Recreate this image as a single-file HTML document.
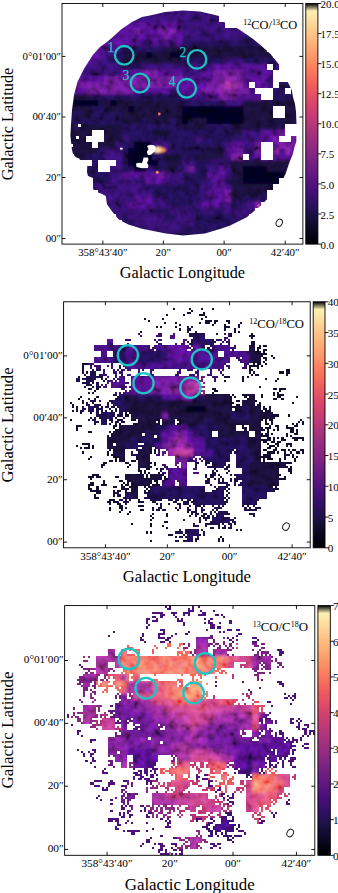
<!DOCTYPE html>
<html><head><meta charset="utf-8"><style>
html,body{margin:0;padding:0;background:#fff;width:338px;height:893px;overflow:hidden}
body{position:relative;font-family:"Liberation Serif",serif;color:#000}
div{position:absolute;box-sizing:border-box}
.frame{border:1px solid #262626}
.cb{border:1px solid #262626}
.th{width:3.5px;height:1px;background:#262626}
.tv{width:1px;height:3.5px;background:#262626}
.yl{font-size:10.9px;line-height:12px;white-space:nowrap;text-align:right}
.xl{font-size:10.9px;line-height:12px;width:80px;text-align:center;white-space:nowrap}
.cl{font-size:10.9px;line-height:12px;white-space:nowrap}
.al{font-size:16.3px;line-height:20px;width:160px;text-align:center;white-space:nowrap}
.rot{transform:rotate(-90deg)}
.ti{font-size:12px;line-height:14px;white-space:nowrap}
.ti sup{font-size:8px;vertical-align:0;position:relative;top:-4px}
</style></head><body>
<svg style="position:absolute;left:0;top:0" width="338" height="893" viewBox="0 0 338 893"><defs><filter id="bs" x="-20%" y="-20%" width="140%" height="140%"><feGaussianBlur stdDeviation="0.8"/></filter><filter id="bl" x="-5%" y="-5%" width="110%" height="110%"><feGaussianBlur stdDeviation="1.8"/></filter><filter id="nz" filterUnits="userSpaceOnUse" x="0" y="0" width="338" height="893"><feTurbulence type="fractalNoise" baseFrequency="0.13" numOctaves="2" seed="7"/><feColorMatrix type="matrix" values="1.6 0 0 0 -0.3  1.6 0 0 0 -0.3  1.6 0 0 0 -0.3  0 0 0 0 1"/></filter><clipPath id="c1"><polygon points="142.0,17.0 150.0,15.4 165.0,12.0 183.0,10.5 200.0,11.5 215.0,15.0 219.0,16.0 220.0,22.0 223.0,21.7 232.5,25.3 241.9,31.2 253.8,39.5 260.9,45.4 270.3,53.7 279.8,65.5 284.7,77.7 288.3,83.0 291.8,90.2 293.0,97.0 295.0,104.0 296.0,112.0 296.5,124.0 296.3,141.8 294.5,147.0 292.7,154.2 289.2,163.0 285.6,173.7 283.4,178.2 272.7,193.6 260.9,205.4 246.7,217.3 230.1,225.5 223.0,228.0 205.0,233.5 183.0,235.5 166.0,233.5 142.0,228.7 128.3,224.4 118.8,219.6 112.9,212.5 107.0,204.2 105.8,196.0 101.1,193.6 94.0,191.2 93.0,188.0 93.0,178.0 88.0,176.0 87.0,172.0 87.3,165.0 92.0,162.6 88.0,161.0 80.0,160.0 79.3,158.5 75.8,157.3 73.0,153.8 72.0,150.0 70.4,136.0 71.0,124.0 72.0,110.0 74.0,95.0 77.4,82.1 84.5,67.9 92.8,54.9 100.0,47.0 107.0,42.0 114.0,36.0 121.0,29.5 132.0,22.0" fill="#fff"/></clipPath></defs><g clip-path="url(#c1)"><g filter="url(#bl)"><path fill="#451077" d="M62 4h48v6h-48zM62 10h54v6h-54zM62 16h60v6h-60zM62 22h120v6h-120zM62 28h72v6h-72zM140 28h18v6h-18zM176 28h6v6h-6zM62 34h102v6h-102zM170 34h12v6h-12zM62 40h78v6h-78zM152 40h6v6h-6zM164 40h6v6h-6zM176 40h6v6h-6zM62 46h54v6h-54zM74 52h30v6h-30zM80 58h18v6h-18zM62 64h6v6h-6zM213 64h54v6h-54zM62 70h12v6h-12zM122 70h18v6h-18zM158 70h24v6h-24zM201 70h12v6h-12zM243 70h30v6h-30zM62 76h42v6h-42zM182 76h31v6h-31zM243 76h24v6h-24zM62 82h6v6h-6zM176 82h31v6h-31zM243 82h24v6h-24zM62 88h24v6h-24zM134 88h36v6h-36zM182 88h19v6h-19zM255 88h12v6h-12zM207 94h12v6h-12zM237 94h30v6h-30zM261 130h18v6h-18zM261 136h12v6h-12zM231 142h12v6h-12zM261 142h18v6h-18zM225 148h12v6h-12zM279 148h6v6h-6zM291 148h12v6h-12zM255 154h48v6h-48zM219 166h6v6h-6zM122 172h36v6h-36zM164 172h6v6h-6zM207 172h18v6h-18zM146 178h18v6h-18zM213 178h12v6h-12zM213 184h12v6h-12zM207 190h18v6h-18zM134 196h18v6h-18zM213 196h12v6h-12zM128 202h24v6h-24zM201 202h18v6h-18z"/><path fill="#2d1161" d="M110 4h169v6h-169zM116 10h157v6h-157zM122 16h145v6h-145zM182 22h79v6h-79zM182 28h73v6h-73zM182 34h61v6h-61zM140 40h12v6h-12zM158 40h6v6h-6zM170 40h6v6h-6zM116 46h6v6h-6zM62 52h12v6h-12zM104 52h12v6h-12zM62 58h18v6h-18zM98 58h12v6h-12zM225 58h18v6h-18zM68 64h54v6h-54zM140 64h73v6h-73zM273 64h24v6h-24zM74 70h48v6h-48zM182 70h19v6h-19zM273 70h12v6h-12zM267 76h12v6h-12zM267 82h12v6h-12zM170 88h12v6h-12zM249 88h6v6h-6zM267 88h6v6h-6zM182 94h25v6h-25zM225 100h18v6h-18zM243 130h18v6h-18zM122 136h6v6h-6zM194 136h7v6h-7zM237 136h24v6h-24zM116 142h6v6h-6zM152 142h18v6h-18zM225 142h6v6h-6zM243 142h12v6h-12zM104 148h18v6h-18zM164 148h6v6h-6zM243 148h12v6h-12zM104 154h18v6h-18zM225 154h6v6h-6zM243 154h12v6h-12zM104 160h18v6h-18zM182 160h12v6h-12zM213 160h12v6h-12zM104 166h18v6h-18zM146 166h6v6h-6zM182 166h6v6h-6zM207 166h12v6h-12zM225 166h6v6h-6zM110 172h12v6h-12zM170 172h12v6h-12zM225 172h6v6h-6zM110 178h36v6h-36zM164 178h18v6h-18zM207 178h6v6h-6zM80 184h66v6h-66zM201 184h12v6h-12zM225 184h6v6h-6zM68 190h84v6h-84zM201 190h6v6h-6zM62 196h72v6h-72zM152 196h12v6h-12zM201 196h12v6h-12zM62 202h66v6h-66zM152 202h18v6h-18zM194 202h7v6h-7zM219 202h12v6h-12zM243 202h12v6h-12zM62 208h96v6h-96zM170 208h24v6h-24zM201 208h12v6h-12zM225 208h30v6h-30zM62 214h60v6h-60zM128 214h36v6h-36zM176 214h18v6h-18zM237 214h24v6h-24zM62 220h60v6h-60zM134 220h60v6h-60zM243 220h24v6h-24zM62 226h54v6h-54zM146 226h36v6h-36zM249 226h24v6h-24zM62 232h48v6h-48zM146 232h6v6h-6zM255 232h24v6h-24zM62 238h42v6h-42zM261 238h24v6h-24z"/><path fill="#1e1149" d="M279 4h24v6h-24zM273 10h24v6h-24zM267 16h24v6h-24zM261 22h24v6h-24zM255 28h24v6h-24zM243 34h30v6h-30zM297 34h6v6h-6zM182 40h85v6h-85zM291 40h12v6h-12zM122 46h42v6h-42zM285 46h18v6h-18zM116 52h6v6h-6zM279 52h24v6h-24zM110 58h12v6h-12zM182 58h43v6h-43zM243 58h60v6h-60zM122 64h18v6h-18zM267 64h6v6h-6zM297 64h6v6h-6zM285 70h18v6h-18zM279 76h24v6h-24zM279 82h24v6h-24zM273 88h30v6h-30zM92 94h90v6h-90zM267 94h24v6h-24zM182 100h43v6h-43zM92 106h12v6h-12zM62 112h18v6h-18zM92 112h30v6h-30zM62 118h60v6h-60zM140 118h6v6h-6zM170 118h6v6h-6zM74 124h6v6h-6zM122 124h60v6h-60zM207 124h24v6h-24zM279 124h6v6h-6zM122 130h30v6h-30zM170 130h61v6h-61zM128 136h66v6h-66zM201 136h36v6h-36zM122 142h12v6h-12zM170 142h55v6h-55zM98 148h6v6h-6zM122 148h6v6h-6zM152 148h12v6h-12zM170 148h37v6h-37zM86 154h18v6h-18zM122 154h6v6h-6zM152 154h12v6h-12zM182 154h12v6h-12zM86 160h18v6h-18zM122 160h6v6h-6zM158 160h6v6h-6zM194 160h19v6h-19zM225 160h6v6h-6zM80 166h24v6h-24zM122 166h12v6h-12zM152 166h12v6h-12zM176 166h6v6h-6zM194 166h13v6h-13zM68 172h42v6h-42zM182 172h25v6h-25zM62 178h48v6h-48zM182 178h25v6h-25zM225 178h6v6h-6zM62 184h18v6h-18zM146 184h55v6h-55zM62 190h6v6h-6zM152 190h49v6h-49zM164 196h37v6h-37zM237 196h42v6h-42zM170 202h24v6h-24zM231 202h12v6h-12zM261 202h30v6h-30zM158 208h12v6h-12zM194 208h7v6h-7zM213 208h12v6h-12zM267 208h30v6h-30zM122 214h6v6h-6zM164 214h12v6h-12zM194 214h43v6h-43zM273 214h30v6h-30zM122 220h12v6h-12zM194 220h49v6h-49zM279 220h24v6h-24zM116 226h30v6h-30zM182 226h67v6h-67zM285 226h18v6h-18zM110 232h36v6h-36zM152 232h103v6h-103zM291 232h12v6h-12zM104 238h157v6h-157zM297 238h6v6h-6z"/><path fill="#120d31" d="M297 10h6v6h-6zM291 16h12v6h-12zM285 22h18v6h-18zM279 28h24v6h-24zM273 34h24v6h-24zM267 40h24v6h-24zM164 46h121v6h-121zM122 52h24v6h-24zM152 52h18v6h-18zM182 52h97v6h-97zM122 58h60v6h-60zM62 94h30v6h-30zM291 94h12v6h-12zM62 100h12v6h-12zM98 100h12v6h-12zM116 100h66v6h-66zM243 100h60v6h-60zM62 106h30v6h-30zM104 106h24v6h-24zM134 106h48v6h-48zM243 106h60v6h-60zM80 112h12v6h-12zM122 112h60v6h-60zM243 112h60v6h-60zM122 118h18v6h-18zM146 118h24v6h-24zM176 118h6v6h-6zM188 118h19v6h-19zM243 118h60v6h-60zM62 124h12v6h-12zM80 124h42v6h-42zM182 124h25v6h-25zM231 124h48v6h-48zM285 124h18v6h-18zM62 130h60v6h-60zM152 130h18v6h-18zM231 130h12v6h-12zM62 136h60v6h-60zM62 142h54v6h-54zM62 148h36v6h-36zM207 148h18v6h-18zM62 154h24v6h-24zM164 154h18v6h-18zM194 154h31v6h-31zM62 160h24v6h-24zM164 160h18v6h-18zM231 160h72v6h-72zM62 166h18v6h-18zM164 166h12v6h-12zM231 166h12v6h-12zM267 166h36v6h-36zM62 172h6v6h-6zM231 172h12v6h-12zM285 172h18v6h-18zM231 178h12v6h-12zM285 178h18v6h-18zM231 184h42v6h-42zM285 184h18v6h-18zM231 190h48v6h-48zM291 190h12v6h-12zM231 196h6v6h-6zM279 196h6v6h-6zM291 196h12v6h-12zM297 202h6v6h-6zM297 208h6v6h-6z"/><path fill="#5c167f" d="M134 28h6v6h-6zM158 28h18v6h-18zM164 34h6v6h-6zM140 70h18v6h-18zM213 70h30v6h-30zM104 76h78v6h-78zM213 76h12v6h-12zM237 76h6v6h-6zM68 82h108v6h-108zM207 82h12v6h-12zM86 88h48v6h-48zM201 88h18v6h-18zM237 88h12v6h-12zM219 94h18v6h-18zM279 130h24v6h-24zM273 136h30v6h-30zM255 142h6v6h-6zM285 142h18v6h-18zM237 148h6v6h-6zM255 148h12v6h-12zM231 154h6v6h-6zM188 166h6v6h-6zM158 172h6v6h-6zM225 190h6v6h-6zM225 196h6v6h-6zM255 202h6v6h-6zM255 208h12v6h-12zM261 214h12v6h-12zM267 220h12v6h-12zM273 226h12v6h-12zM279 232h12v6h-12zM285 238h12v6h-12z"/><path fill="#06051a" d="M146 52h6v6h-6zM170 52h12v6h-12zM74 100h24v6h-24zM110 100h6v6h-6zM128 106h6v6h-6zM182 106h61v6h-61zM182 112h61v6h-61zM182 118h6v6h-6zM207 118h36v6h-36zM134 142h18v6h-18zM128 148h24v6h-24zM128 154h24v6h-24zM128 160h30v6h-30zM134 166h12v6h-12zM243 166h24v6h-24zM243 172h42v6h-42zM243 178h42v6h-42zM273 184h12v6h-12zM279 190h12v6h-12zM285 196h6v6h-6zM291 202h6v6h-6z"/><path fill="#6b1d81" d="M225 76h12v6h-12zM219 82h6v6h-6zM237 82h6v6h-6zM219 88h18v6h-18zM279 142h6v6h-6zM267 148h12v6h-12zM285 148h6v6h-6zM237 154h6v6h-6z"/><path fill="#8c2981" d="M225 82h6v6h-6z"/><path fill="#7c2382" d="M231 82h6v6h-6z"/></g><rect x="62.0" y="3.5" width="240.9" height="240.6" filter="url(#nz)" style="mix-blend-mode:overlay" opacity="0.5"/><g filter="url(#bs)"><polygon points="155.0,146.8 159.0,146.3 163.0,147.2 166.5,149.5 165.0,152.0 161.0,153.2 155.0,153.4" fill="#f9925f"/><polygon points="154.5,147.0 158.0,146.6 160.5,147.5 161.0,150.0 159.5,152.8 154.5,153.2" fill="#fee2a6"/></g><circle cx="157.3" cy="172.3" r="1.5" fill="#f78a5e"/><circle cx="159.3" cy="114" r="1.4" fill="#f3795c"/><circle cx="258.5" cy="205.4" r="1.5" fill="#d44870"/></g><path fill="#fff" d="M62 4h241v6h-241zM62 10h84v6h-84zM219 10h84v6h-84zM62 16h66v6h-66zM219 16h84v6h-84zM62 22h60v6h-60zM225 22h78v6h-78zM62 28h48v6h-48zM249 28h54v6h-54zM62 34h42v6h-42zM255 34h48v6h-48zM62 40h36v6h-36zM261 40h42v6h-42zM62 46h30v6h-30zM267 46h36v6h-36zM62 52h24v6h-24zM273 52h30v6h-30zM62 58h24v6h-24zM279 58h24v6h-24zM62 64h18v6h-18zM267 64h6v6h-6zM279 64h24v6h-24zM62 70h18v6h-18zM273 70h30v6h-30zM62 76h12v6h-12zM273 76h30v6h-30zM62 82h12v6h-12zM249 82h6v6h-6zM273 82h6v6h-6zM291 82h12v6h-12zM62 88h6v6h-6zM255 88h18v6h-18zM285 88h6v6h-6zM297 88h6v6h-6zM62 94h6v6h-6zM261 94h12v6h-12zM297 94h6v6h-6zM62 100h6v6h-6zM297 100h6v6h-6zM62 106h6v6h-6zM273 106h12v6h-12zM297 106h6v6h-6zM62 112h6v6h-6zM273 112h12v6h-12zM297 112h6v6h-6zM62 118h6v6h-6zM297 118h6v6h-6zM62 124h6v6h-6zM285 124h18v6h-18zM62 130h6v6h-6zM92 130h12v6h-12zM285 130h18v6h-18zM62 136h6v6h-6zM86 136h18v6h-18zM279 136h12v6h-12zM297 136h6v6h-6zM62 142h6v6h-6zM92 142h6v6h-6zM261 142h12v6h-12zM297 142h6v6h-6zM62 148h6v6h-6zM261 148h12v6h-12zM297 148h6v6h-6zM62 154h12v6h-12zM243 154h6v6h-6zM261 154h12v6h-12zM297 154h6v6h-6zM62 160h30v6h-30zM98 160h18v6h-18zM297 160h6v6h-6zM62 166h24v6h-24zM98 166h12v6h-12zM291 166h12v6h-12zM62 172h24v6h-24zM291 172h12v6h-12zM62 178h30v6h-30zM279 178h24v6h-24zM62 184h30v6h-30zM273 184h30v6h-30zM62 190h36v6h-36zM267 190h36v6h-36zM62 196h42v6h-42zM267 196h36v6h-36zM62 202h42v6h-42zM261 202h42v6h-42zM62 208h48v6h-48zM255 208h48v6h-48zM62 214h54v6h-54zM249 214h54v6h-54zM62 220h60v6h-60zM243 220h60v6h-60zM62 226h72v6h-72zM231 226h72v6h-72zM62 232h90v6h-90zM219 232h84v6h-84zM62 238h241v6h-241zM78 124h3v3h-3zM76 136h3v3h-3zM70 144h3v3h-3z"/><polygon points="147.0,146.0 150.0,144.8 154.0,145.2 155.8,147.0 155.5,151.0 153.0,153.0 151.0,154.8 148.0,155.0 146.8,152.0 148.5,149.0" fill="#fff"/><polygon points="143.5,157.5 148.0,157.5 148.4,160.0 147.0,163.0 148.4,165.0 148.0,168.0 142.0,168.3 136.5,167.0 136.0,163.5 139.0,162.8 142.0,163.0 143.0,160.0" fill="#fff"/><rect x="120.0" y="147.8" width="2.7" height="1.7" fill="#fff"/><clipPath id="cp2"><rect x="63.6" y="301.8" width="246.6" height="246.0"/></clipPath><g clip-path="url(#cp2)"><g filter="url(#bl)"><path fill="#3b0f70" d="M64 302h104v6h-104zM236 302h6v6h-6zM64 308h104v6h-104zM230 308h12v6h-12zM64 314h104v6h-104zM230 314h12v6h-12zM64 320h104v6h-104zM224 320h18v6h-18zM64 326h104v7h-104zM224 326h18v7h-18zM64 333h55v6h-55zM125 333h43v6h-43zM218 333h24v6h-24zM64 339h55v6h-55zM125 339h43v6h-43zM218 339h24v6h-24zM64 345h55v6h-55zM125 345h43v6h-43zM212 345h30v6h-30zM64 351h49v6h-49zM125 351h13v6h-13zM199 351h50v6h-50zM64 357h49v6h-49zM125 357h13v6h-13zM162 357h13v6h-13zM181 357h6v6h-6zM193 357h56v6h-56zM82 363h31v6h-31zM125 363h124v6h-124zM101 369h148v7h-148zM113 376h18v6h-18zM205 376h44v6h-44zM119 382h12v6h-12zM119 388h6v6h-6zM162 394h19v6h-19zM168 425h13v6h-13zM187 431h12v6h-12zM199 437h6v6h-6zM156 443h6v6h-6zM199 443h6v6h-6zM156 449h6v7h-6zM199 449h13v7h-13zM156 456h6v6h-6zM199 456h6v6h-6zM162 462h13v6h-13zM162 468h19v6h-19zM168 474h7v6h-7zM181 474h18v6h-18zM162 480h6v6h-6zM181 480h12v6h-12z"/><path fill="#1e1149" d="M168 302h68v6h-68zM168 308h62v6h-62zM168 314h62v6h-62zM175 320h49v6h-49zM181 326h43v7h-43zM119 333h6v6h-6zM181 333h37v6h-37zM119 339h6v6h-6zM187 339h31v6h-31zM119 345h6v6h-6zM205 345h7v6h-7zM113 351h12v6h-12zM138 351h30v6h-30zM113 357h12v6h-12zM138 357h24v6h-24zM64 363h18v6h-18zM113 363h12v6h-12zM64 369h37v7h-37zM64 376h43v6h-43zM64 382h37v6h-37zM64 388h37v6h-37zM64 394h61v6h-61zM138 394h24v6h-24zM193 394h12v6h-12zM64 400h61v6h-61zM64 406h61v6h-61zM242 406h7v6h-7zM64 412h61v7h-61zM230 412h19v7h-19zM64 419h55v6h-55zM205 419h7v6h-7zM64 425h49v6h-49zM156 425h12v6h-12zM187 425h31v6h-31zM64 431h37v6h-37zM144 431h6v6h-6zM156 431h6v6h-6zM199 431h19v6h-19zM64 437h18v6h-18zM131 437h31v6h-31zM205 437h44v6h-44zM125 443h19v6h-19zM150 443h6v6h-6zM205 443h44v6h-44zM125 449h13v7h-13zM212 449h37v7h-37zM187 456h6v6h-6zM205 456h50v6h-50zM187 462h62v6h-62zM199 468h50v6h-50zM199 474h50v6h-50zM193 480h56v6h-56zM70 486h55v6h-55zM150 486h123v6h-123zM64 492h67v7h-67zM144 492h135v7h-135zM64 499h67v6h-67zM144 499h142v6h-142zM64 505h67v6h-67zM144 505h148v6h-148zM64 511h67v6h-67zM144 511h154v6h-154zM64 517h67v6h-67zM144 517h160v6h-160zM64 523h67v6h-67zM144 523h166v6h-166zM64 529h67v7h-67zM144 529h166v7h-166zM64 536h67v6h-67zM144 536h166v6h-166zM64 542h67v6h-67zM144 542h166v6h-166z"/><path fill="#120d31" d="M242 302h68v6h-68zM242 308h68v6h-68zM242 314h68v6h-68zM242 320h68v6h-68zM242 326h68v7h-68zM242 333h68v6h-68zM242 339h68v6h-68zM242 345h68v6h-68zM249 351h61v6h-61zM249 357h61v6h-61zM249 363h61v6h-61zM249 369h61v7h-61zM249 376h61v6h-61zM212 382h98v6h-98zM205 388h105v6h-105zM125 394h13v6h-13zM205 394h105v6h-105zM125 400h185v6h-185zM125 406h62v6h-62zM205 406h37v6h-37zM249 406h61v6h-61zM125 412h37v7h-37zM168 412h62v7h-62zM249 412h61v7h-61zM119 419h86v6h-86zM212 419h98v6h-98zM113 425h43v6h-43zM218 425h92v6h-92zM101 431h43v6h-43zM150 431h6v6h-6zM218 431h92v6h-92zM82 437h49v6h-49zM249 437h61v6h-61zM64 443h61v6h-61zM144 443h6v6h-6zM249 443h61v6h-61zM64 449h61v7h-61zM138 449h18v7h-18zM249 449h61v7h-61zM64 456h92v6h-92zM255 456h55v6h-55zM64 462h98v6h-98zM249 462h61v6h-61zM64 468h98v6h-98zM249 468h61v6h-61zM64 474h104v6h-104zM249 474h61v6h-61zM64 480h98v6h-98zM249 480h61v6h-61zM64 486h6v6h-6zM125 486h25v6h-25zM273 486h37v6h-37zM131 492h13v7h-13zM279 492h31v7h-31zM131 499h13v6h-13zM286 499h24v6h-24zM131 505h13v6h-13zM292 505h18v6h-18zM131 511h13v6h-13zM298 511h12v6h-12zM131 517h13v6h-13zM304 517h6v6h-6zM131 523h13v6h-13zM131 529h13v7h-13zM131 536h13v6h-13zM131 542h13v6h-13z"/><path fill="#4c117a" d="M168 320h7v6h-7zM168 326h13v7h-13zM168 333h13v6h-13zM168 339h19v6h-19zM168 345h37v6h-37zM168 351h31v6h-31zM175 357h6v6h-6zM187 357h6v6h-6zM107 376h6v6h-6zM131 376h25v6h-25zM101 382h18v6h-18zM131 382h19v6h-19zM101 388h18v6h-18zM125 388h25v6h-25zM181 425h6v6h-6zM162 431h13v6h-13zM162 437h6v6h-6zM187 437h12v6h-12zM193 443h6v6h-6zM193 449h6v7h-6zM193 456h6v6h-6zM181 468h18v6h-18zM175 474h6v6h-6zM168 480h13v6h-13z"/><path fill="#5c167f" d="M156 376h31v6h-31zM150 382h31v6h-31zM150 388h18v6h-18zM181 394h12v6h-12zM162 412h6v7h-6zM181 431h6v6h-6zM168 437h7v6h-7zM162 443h6v6h-6zM187 443h6v6h-6zM162 449h6v7h-6zM175 456h12v6h-12zM175 462h12v6h-12z"/><path fill="#6b1d81" d="M187 376h18v6h-18zM181 382h6v6h-6zM168 388h19v6h-19zM175 431h6v6h-6zM181 437h6v6h-6zM168 443h13v6h-13z"/><path fill="#8c2981" d="M187 382h25v6h-25zM193 388h12v6h-12z"/><path fill="#9c2e7f" d="M187 388h6v6h-6zM175 449h6v7h-6zM187 449h6v7h-6z"/><path fill="#06051a" d="M187 406h18v6h-18z"/><path fill="#7c2382" d="M175 437h6v6h-6zM181 443h6v6h-6zM168 449h7v7h-7zM162 456h13v6h-13z"/><path fill="#ad347c" d="M181 449h6v7h-6z"/></g><rect x="63.6" y="301.8" width="246.6" height="246.0" filter="url(#nz)" style="mix-blend-mode:overlay" opacity="0.5"/><path fill="#fff" d="M64 302h246v6h-246zM64 308h246v6h-246zM64 314h246v6h-246zM64 320h246v6h-246zM64 326h246v7h-246zM64 333h129v6h-129zM205 333h105v6h-105zM64 339h43v6h-43zM113 339h80v6h-80zM212 339h98v6h-98zM64 345h30v6h-30zM150 345h6v6h-6zM187 345h6v6h-6zM205 345h7v6h-7zM230 345h19v6h-19zM255 345h55v6h-55zM64 351h37v6h-37zM107 351h6v6h-6zM218 351h6v6h-6zM261 351h49v6h-49zM64 357h30v6h-30zM230 357h12v6h-12zM261 357h49v6h-49zM64 363h61v6h-61zM224 363h86v6h-86zM64 369h246v7h-246zM64 376h24v6h-24zM94 376h25v6h-25zM125 376h6v6h-6zM199 376h111v6h-111zM64 382h49v6h-49zM125 382h6v6h-6zM199 382h111v6h-111zM64 388h67v6h-67zM199 388h111v6h-111zM64 394h55v6h-55zM230 394h19v6h-19zM255 394h55v6h-55zM64 400h49v6h-49zM230 400h12v6h-12zM255 400h55v6h-55zM64 406h24v6h-24zM94 406h25v6h-25zM261 406h49v6h-49zM64 412h37v7h-37zM113 412h18v7h-18zM273 412h37v7h-37zM64 419h37v6h-37zM107 419h31v6h-31zM156 419h6v6h-6zM175 419h6v6h-6zM261 419h49v6h-49zM64 425h55v6h-55zM236 425h13v6h-13zM261 425h49v6h-49zM64 431h49v6h-49zM212 431h6v6h-6zM249 431h6v6h-6zM261 431h49v6h-49zM64 437h43v6h-43zM261 437h49v6h-49zM64 443h43v6h-43zM138 443h6v6h-6zM261 443h49v6h-49zM64 449h49v7h-49zM125 449h13v7h-13zM150 449h18v7h-18zM230 449h6v7h-6zM261 449h49v7h-49zM64 456h55v6h-55zM125 456h13v6h-13zM150 456h25v6h-25zM193 456h12v6h-12zM230 456h6v6h-6zM261 456h49v6h-49zM64 462h74v6h-74zM150 462h31v6h-31zM187 462h25v6h-25zM224 462h12v6h-12zM286 462h24v6h-24zM64 468h104v6h-104zM187 468h55v6h-55zM279 468h31v6h-31zM64 474h61v6h-61zM144 474h6v6h-6zM162 474h6v6h-6zM187 474h49v6h-49zM279 474h31v6h-31zM64 480h67v6h-67zM150 480h12v6h-12zM175 480h6v6h-6zM187 480h55v6h-55zM279 480h31v6h-31zM64 486h67v6h-67zM138 486h12v6h-12zM205 486h13v6h-13zM224 486h18v6h-18zM273 486h37v6h-37zM64 492h61v7h-61zM138 492h6v7h-6zM224 492h18v7h-18zM267 492h43v7h-43zM64 499h129v6h-129zM224 499h18v6h-18zM255 499h55v6h-55zM64 505h246v6h-246zM64 511h154v6h-154zM224 511h86v6h-86zM64 517h148v6h-148zM230 517h80v6h-80zM64 523h246v6h-246zM64 529h123v7h-123zM199 529h111v7h-111zM64 536h123v6h-123zM193 536h117v6h-117zM64 542h246v6h-246zM232 408h3v3h-3zM142 433h3v3h-3zM154 435h3v3h-3zM113 443h3v3h-3zM152 447h3v3h-3zM144 494h3v3h-3z"/><path fill="#120d31" d="M173 308h2v2h-2zM191 310h2v2h-2zM189 312h2v2h-2zM187 312h2v2h-2zM189 308h2v2h-2zM203 312h2v2h-2zM201 308h2v2h-2zM212 308h2v2h-2zM144 318h2v2h-2zM166 314h2v2h-2zM162 318h2v2h-2zM183 314h2v2h-2zM201 318h2v2h-2zM203 314h2v2h-2zM201 314h2v2h-2zM199 314h2v2h-2zM205 316h2v2h-2zM148 320h2v2h-2zM164 322h2v2h-2zM175 322h2v2h-2zM179 324h2v2h-2zM207 322h3v2h-3zM205 320h2v2h-2zM210 320h2v2h-2zM205 322h2v2h-2zM207 320h3v2h-3zM214 322h2v2h-2zM214 320h2v2h-2zM216 320h2v2h-2zM212 324h2v2h-2zM228 322h2v2h-2zM226 320h2v2h-2zM228 320h2v2h-2zM224 324h2v2h-2zM238 324h2v2h-2zM240 322h2v2h-2zM140 331h2v2h-2zM160 326h2v2h-2zM156 326h2v2h-2zM175 326h2v2h-2zM179 328h2v3h-2zM228 326h2v2h-2zM224 328h2v3h-2zM224 326h2v2h-2zM226 326h2v2h-2zM234 328h2v3h-2zM234 331h2v2h-2zM238 331h2v2h-2zM238 326h2v2h-2zM230 333h2v2h-2zM230 335h2v2h-2zM251 335h2v2h-2zM251 337h2v2h-2zM253 335h2v2h-2zM249 335h2v2h-2zM251 333h2v2h-2zM251 341h2v2h-2zM253 341h2v2h-2zM253 343h2v2h-2zM251 343h2v2h-2zM257 349h2v2h-2zM259 347h2v2h-2zM259 345h2v2h-2zM257 347h2v2h-2zM265 349h2v2h-2zM265 345h2v2h-2zM263 345h2v2h-2zM263 349h2v2h-2zM263 353h2v2h-2zM263 351h2v2h-2zM265 353h2v2h-2zM261 355h2v2h-2zM261 353h2v2h-2zM271 355h2v2h-2zM263 361h2v2h-2zM265 357h2v2h-2zM263 357h2v2h-2zM265 359h2v2h-2zM273 357h2v2h-2zM82 365h2v2h-2zM86 363h2v2h-2zM82 363h2v2h-2zM84 363h2v2h-2zM82 367h2v2h-2zM253 365h2v2h-2zM253 363h2v2h-2zM249 365h2v2h-2zM249 367h2v2h-2zM251 365h2v2h-2zM257 367h2v2h-2zM259 363h2v2h-2zM257 363h2v2h-2zM257 365h2v2h-2zM255 365h2v2h-2zM261 365h2v2h-2zM265 363h2v2h-2zM251 369h2v2h-2zM249 371h2v3h-2zM249 369h2v2h-2zM251 374h2v2h-2zM253 371h2v3h-2zM255 374h2v2h-2zM257 374h2v2h-2zM279 371h2v3h-2zM281 371h3v3h-3zM288 369h2v2h-2zM288 371h2v3h-2zM286 374h2v2h-2zM286 369h2v2h-2zM286 371h2v3h-2zM224 380h2v2h-2zM226 376h2v2h-2zM228 376h2v2h-2zM224 376h2v2h-2zM242 380h2v2h-2zM247 376h2v2h-2zM242 376h2v2h-2zM242 378h2v2h-2zM265 378h2v2h-2zM275 380h2v2h-2zM277 378h2v2h-2zM259 386h2v2h-2zM94 390h2v2h-2zM96 388h3v2h-3zM216 390h2v2h-2zM212 388h2v2h-2zM214 390h2v2h-2zM212 392h2v2h-2zM214 388h2v2h-2zM273 392h2v2h-2zM275 388h2v2h-2zM273 388h2v2h-2zM277 392h2v2h-2zM284 388h2v2h-2zM279 390h2v2h-2zM281 388h3v2h-3zM279 388h2v2h-2zM78 398h2v2h-2zM80 396h2v2h-2zM96 396h3v2h-3zM94 398h2v2h-2zM232 394h2v2h-2zM234 396h2v2h-2zM230 398h2v2h-2zM230 396h2v2h-2zM247 394h2v2h-2zM244 396h3v2h-3zM242 394h2v2h-2zM247 398h2v2h-2zM244 394h3v2h-3zM261 396h2v2h-2zM261 394h2v2h-2zM273 394h2v2h-2zM277 396h2v2h-2zM273 398h2v2h-2zM277 394h2v2h-2zM275 398h2v2h-2zM279 394h2v2h-2zM281 398h3v2h-3zM279 396h2v2h-2zM281 394h3v2h-3zM296 396h2v2h-2zM72 404h2v2h-2zM70 402h2v2h-2zM230 404h2v2h-2zM232 402h2v2h-2zM230 400h2v2h-2zM230 402h2v2h-2zM238 404h2v2h-2zM236 404h2v2h-2zM238 400h2v2h-2zM236 400h2v2h-2zM259 404h2v2h-2zM259 402h2v2h-2zM255 400h2v2h-2zM257 404h2v2h-2zM292 402h2v2h-2zM72 406h2v2h-2zM72 410h2v2h-2zM261 410h2v2h-2zM265 410h2v2h-2zM263 408h2v2h-2zM265 408h2v2h-2zM263 406h2v2h-2zM269 408h2v2h-2zM269 410h2v2h-2zM267 410h2v2h-2zM269 406h2v2h-2zM80 412h2v2h-2zM125 414h2v3h-2zM127 414h2v3h-2zM129 412h2v2h-2zM125 412h2v2h-2zM273 417h2v2h-2zM277 414h2v3h-2zM273 414h2v3h-2zM275 414h2v3h-2zM288 414h2v3h-2zM70 419h2v2h-2zM119 419h2v2h-2zM121 419h2v2h-2zM121 421h2v2h-2zM123 421h2v2h-2zM119 423h2v2h-2zM131 419h2v2h-2zM133 419h3v2h-3zM136 423h2v2h-2zM133 423h3v2h-3zM156 423h2v2h-2zM158 421h2v2h-2zM158 423h2v2h-2zM156 419h2v2h-2zM158 419h2v2h-2zM179 419h2v2h-2zM179 421h2v2h-2zM177 419h2v2h-2zM179 423h2v2h-2zM177 423h2v2h-2zM265 419h2v2h-2zM265 423h2v2h-2zM265 421h2v2h-2zM261 419h2v2h-2zM271 423h2v2h-2zM271 419h2v2h-2zM271 421h2v2h-2zM267 423h2v2h-2zM269 419h2v2h-2zM292 423h2v2h-2zM296 423h2v2h-2zM302 421h2v2h-2zM302 423h2v2h-2zM298 421h2v2h-2zM300 419h2v2h-2zM76 429h2v2h-2zM80 425h2v2h-2zM76 427h2v2h-2zM76 425h2v2h-2zM78 425h2v2h-2zM115 429h2v2h-2zM113 425h2v2h-2zM117 429h2v2h-2zM115 425h2v2h-2zM113 427h2v2h-2zM242 427h2v2h-2zM242 425h2v2h-2zM244 429h3v2h-3zM244 427h3v2h-3zM263 429h2v2h-2zM265 427h2v2h-2zM261 427h2v2h-2zM261 429h2v2h-2zM267 427h2v2h-2zM269 427h2v2h-2zM267 429h2v2h-2zM269 425h2v2h-2zM277 429h2v2h-2zM277 427h2v2h-2zM273 429h2v2h-2zM275 425h2v2h-2zM277 425h2v2h-2zM286 427h2v2h-2zM286 425h2v2h-2zM288 427h2v2h-2zM290 429h2v2h-2zM290 427h2v2h-2zM296 425h2v2h-2zM296 429h2v2h-2zM292 429h2v2h-2zM294 425h2v2h-2zM292 427h2v2h-2zM88 431h2v2h-2zM90 431h2v2h-2zM107 435h2v2h-2zM109 431h2v2h-2zM111 435h2v2h-2zM111 433h2v2h-2zM261 433h2v2h-2zM265 433h2v2h-2zM265 435h2v2h-2zM263 435h2v2h-2zM261 435h2v2h-2zM267 433h2v2h-2zM267 435h2v2h-2zM271 433h2v2h-2zM267 431h2v2h-2zM290 435h2v2h-2zM290 431h2v2h-2zM286 435h2v2h-2zM286 433h2v2h-2zM296 433h2v2h-2zM292 431h2v2h-2zM294 433h2v2h-2zM296 431h2v2h-2zM265 441h2v2h-2zM263 441h2v2h-2zM263 439h2v2h-2zM265 439h2v2h-2zM261 439h2v2h-2zM271 441h2v2h-2zM267 437h2v2h-2zM269 439h2v2h-2zM269 437h2v2h-2zM267 439h2v2h-2zM273 437h2v2h-2zM273 439h2v2h-2zM277 437h2v2h-2zM273 441h2v2h-2zM277 441h2v2h-2zM281 437h3v2h-3zM284 439h2v2h-2zM281 439h3v2h-3zM279 441h2v2h-2zM294 439h2v2h-2zM292 437h2v2h-2zM296 437h2v2h-2zM296 439h2v2h-2zM294 437h2v2h-2zM298 437h2v2h-2zM300 437h2v2h-2zM302 439h2v2h-2zM302 437h2v2h-2zM80 447h2v2h-2zM76 445h2v2h-2zM86 447h2v2h-2zM84 443h2v2h-2zM82 443h2v2h-2zM84 447h2v2h-2zM86 443h2v2h-2zM88 447h2v2h-2zM88 443h2v2h-2zM92 445h2v2h-2zM88 445h2v2h-2zM92 447h2v2h-2zM267 447h2v2h-2zM271 445h2v2h-2zM267 443h2v2h-2zM269 447h2v2h-2zM269 445h2v2h-2zM273 445h2v2h-2zM275 443h2v2h-2zM275 447h2v2h-2zM277 443h2v2h-2zM277 445h2v2h-2zM288 443h2v2h-2zM290 443h2v2h-2zM286 443h2v2h-2zM290 445h2v2h-2zM286 445h2v2h-2zM82 451h2v3h-2zM111 454h2v2h-2zM107 454h2v2h-2zM107 451h2v3h-2zM109 449h2v2h-2zM154 451h2v3h-2zM154 449h2v2h-2zM150 451h2v3h-2zM150 449h2v2h-2zM265 454h2v2h-2zM263 449h2v2h-2zM265 449h2v2h-2zM263 454h2v2h-2zM267 454h2v2h-2zM267 451h2v3h-2zM271 451h2v3h-2zM269 451h2v3h-2zM269 454h2v2h-2zM273 449h2v2h-2zM273 451h2v3h-2zM277 451h2v3h-2zM275 449h2v2h-2zM281 449h3v2h-3zM284 451h2v3h-2zM284 454h2v2h-2zM284 449h2v2h-2zM288 454h2v2h-2zM290 451h2v3h-2zM286 454h2v2h-2zM288 449h2v2h-2zM296 451h2v3h-2zM294 449h2v2h-2zM292 454h2v2h-2zM292 449h2v2h-2zM298 451h2v3h-2zM302 451h2v3h-2zM302 449h2v2h-2zM300 449h2v2h-2zM90 456h2v2h-2zM88 458h2v2h-2zM111 460h2v2h-2zM109 460h2v2h-2zM113 456h2v2h-2zM115 456h2v2h-2zM115 458h2v2h-2zM117 456h2v2h-2zM115 460h2v2h-2zM133 460h3v2h-3zM131 460h2v2h-2zM136 456h2v2h-2zM136 458h2v2h-2zM263 460h2v2h-2zM263 456h2v2h-2zM263 458h2v2h-2zM261 456h2v2h-2zM265 456h2v2h-2zM271 458h2v2h-2zM269 456h2v2h-2zM269 458h2v2h-2zM267 458h2v2h-2zM267 456h2v2h-2zM279 460h2v2h-2zM279 458h2v2h-2zM284 456h2v2h-2zM284 458h2v2h-2zM296 456h2v2h-2zM294 458h2v2h-2zM292 456h2v2h-2zM294 460h2v2h-2zM101 466h2v2h-2zM105 462h2v2h-2zM103 464h2v2h-2zM101 464h2v2h-2zM103 462h2v2h-2zM127 466h2v2h-2zM129 464h2v2h-2zM127 462h2v2h-2zM125 462h2v2h-2zM154 462h2v2h-2zM154 464h2v2h-2zM150 466h2v2h-2zM150 462h2v2h-2zM286 466h2v2h-2zM286 462h2v2h-2zM290 466h2v2h-2zM288 462h2v2h-2zM290 462h2v2h-2zM140 470h2v2h-2zM138 470h2v2h-2zM140 472h2v2h-2zM138 468h2v2h-2zM144 470h2v2h-2zM144 472h2v2h-2zM148 472h2v2h-2zM146 468h2v2h-2zM148 468h2v2h-2zM158 472h2v2h-2zM160 470h2v2h-2zM160 468h2v2h-2zM156 468h2v2h-2zM288 468h2v2h-2zM288 470h2v2h-2zM290 472h2v2h-2zM290 470h2v2h-2zM290 468h2v2h-2zM88 476h2v2h-2zM92 474h2v2h-2zM90 478h2v2h-2zM90 476h2v2h-2zM92 476h2v2h-2zM96 476h3v2h-3zM96 474h3v2h-3zM94 474h2v2h-2zM99 476h2v2h-2zM117 476h2v2h-2zM115 476h2v2h-2zM146 478h2v2h-2zM148 478h2v2h-2zM144 478h2v2h-2zM146 474h2v2h-2zM146 476h2v2h-2zM164 476h2v2h-2zM162 474h2v2h-2zM166 478h2v2h-2zM164 478h2v2h-2zM210 474h2v2h-2zM205 476h2v2h-2zM207 478h3v2h-3zM210 476h2v2h-2zM205 474h2v2h-2zM281 478h3v2h-3zM284 478h2v2h-2zM279 474h2v2h-2zM284 476h2v2h-2zM279 478h2v2h-2zM92 484h2v2h-2zM90 482h2v2h-2zM92 482h2v2h-2zM90 484h2v2h-2zM88 484h2v2h-2zM101 484h2v2h-2zM103 482h2v2h-2zM105 484h2v2h-2zM103 480h2v2h-2zM103 484h2v2h-2zM121 484h2v2h-2zM119 480h2v2h-2zM123 482h2v2h-2zM121 480h2v2h-2zM127 480h2v2h-2zM127 482h2v2h-2zM125 484h2v2h-2zM127 484h2v2h-2zM129 480h2v2h-2zM154 480h2v2h-2zM152 484h2v2h-2zM154 484h2v2h-2zM150 480h2v2h-2zM150 482h2v2h-2zM156 482h2v2h-2zM158 484h2v2h-2zM156 480h2v2h-2zM156 484h2v2h-2zM88 486h2v2h-2zM92 490h2v2h-2zM90 488h2v2h-2zM88 488h2v2h-2zM90 490h2v2h-2zM99 490h2v2h-2zM96 490h3v2h-3zM96 488h3v2h-3zM94 490h2v2h-2zM96 486h3v2h-3zM115 486h2v2h-2zM117 490h2v2h-2zM113 486h2v2h-2zM113 490h2v2h-2zM125 490h2v2h-2zM127 488h2v2h-2zM129 486h2v2h-2zM125 488h2v2h-2zM146 488h2v2h-2zM144 486h2v2h-2zM144 490h2v2h-2zM148 486h2v2h-2zM148 490h2v2h-2zM275 486h2v2h-2zM273 490h2v2h-2zM273 488h2v2h-2zM275 488h2v2h-2zM277 488h2v2h-2zM99 492h2v2h-2zM94 494h2v3h-2zM96 492h3v2h-3zM96 497h3v2h-3zM94 497h2v2h-2zM109 501h2v2h-2zM109 499h2v2h-2zM109 503h2v2h-2zM111 499h2v2h-2zM107 501h2v2h-2zM117 503h2v2h-2zM115 501h2v2h-2zM113 501h2v2h-2zM117 501h2v2h-2zM113 499h2v2h-2zM142 501h2v2h-2zM140 501h2v2h-2zM138 499h2v2h-2zM138 501h2v2h-2zM109 507h2v2h-2zM109 509h2v2h-2zM119 505h2v2h-2zM119 507h2v2h-2zM121 507h2v2h-2zM121 505h2v2h-2zM121 509h2v2h-2zM142 509h2v2h-2zM140 505h2v2h-2zM140 509h2v2h-2zM142 505h2v2h-2zM138 505h2v2h-2zM119 511h2v2h-2zM129 511h2v2h-2zM127 513h2v2h-2zM152 513h2v2h-2zM150 515h2v2h-2zM166 513h2v2h-2zM166 515h2v2h-2zM191 511h2v2h-2zM189 515h2v2h-2zM191 513h2v2h-2zM187 511h2v2h-2zM150 519h2v2h-2zM152 517h2v2h-2zM166 521h2v2h-2zM164 521h2v2h-2zM183 519h2v2h-2zM131 523h2v2h-2zM150 525h2v2h-2zM150 523h2v2h-2zM166 527h2v2h-2zM162 525h2v2h-2zM146 531h2v3h-2zM150 531h2v3h-2zM168 534h2v2h-2zM170 534h3v2h-3zM240 529h2v2h-2zM236 529h2v2h-2zM150 540h2v2h-2zM222 538h2v2h-2zM218 540h2v2h-2zM220 536h2v2h-2zM218 538h2v2h-2zM222 540h2v2h-2z"/><path fill="#1e1149" d="M199 322h2v2h-2zM187 326h2v2h-2zM187 331h2v2h-2zM191 326h2v2h-2zM187 328h2v3h-2zM189 328h2v3h-2zM195 331h2v2h-2zM189 335h2v2h-2zM191 335h2v2h-2zM191 333h2v2h-2zM189 333h2v2h-2zM216 333h2v2h-2zM189 343h2v2h-2zM191 341h2v2h-2zM187 341h2v2h-2zM191 339h2v2h-2zM191 343h2v2h-2zM212 343h2v2h-2zM216 339h2v2h-2zM212 339h2v2h-2zM212 341h2v2h-2zM214 341h2v2h-2zM207 347h3v2h-3zM207 349h3v2h-3zM210 345h2v2h-2zM210 349h2v2h-2zM205 349h2v2h-2zM123 365h2v2h-2zM119 367h2v2h-2zM123 363h2v2h-2zM119 365h2v2h-2zM86 371h2v3h-2zM82 369h2v2h-2zM82 371h2v3h-2zM84 374h2v2h-2zM92 374h2v2h-2zM92 369h2v2h-2zM90 374h2v2h-2zM92 371h2v3h-2zM90 371h2v3h-2zM94 374h2v2h-2zM99 374h2v2h-2zM96 369h3v2h-3zM94 371h2v3h-2zM99 369h2v2h-2zM78 380h2v2h-2zM78 378h2v2h-2zM78 376h2v2h-2zM76 380h2v2h-2zM76 378h2v2h-2zM86 378h2v2h-2zM86 376h2v2h-2zM82 378h2v2h-2zM84 378h2v2h-2zM86 380h2v2h-2zM96 376h3v2h-3zM94 378h2v2h-2zM99 376h2v2h-2zM94 376h2v2h-2zM101 376h2v2h-2zM105 378h2v2h-2zM103 380h2v2h-2zM101 378h2v2h-2zM82 382h2v2h-2zM86 382h2v2h-2zM86 384h2v2h-2zM84 386h2v2h-2zM84 382h2v2h-2zM92 386h2v2h-2zM88 384h2v2h-2zM92 382h2v2h-2zM88 382h2v2h-2zM90 384h2v2h-2zM96 384h3v2h-3zM99 386h2v2h-2zM96 386h3v2h-3zM96 382h3v2h-3zM92 392h2v2h-2zM88 392h2v2h-2zM88 388h2v2h-2zM90 388h2v2h-2zM88 398h2v2h-2zM115 398h2v2h-2zM117 398h2v2h-2zM113 394h2v2h-2zM115 394h2v2h-2zM117 396h2v2h-2zM82 400h2v2h-2zM82 402h2v2h-2zM86 402h2v2h-2zM86 404h2v2h-2zM90 400h2v2h-2zM88 404h2v2h-2zM92 402h2v2h-2zM92 400h2v2h-2zM99 400h2v2h-2zM96 404h3v2h-3zM99 404h2v2h-2zM94 404h2v2h-2zM94 400h2v2h-2zM111 400h2v2h-2zM107 402h2v2h-2zM109 400h2v2h-2zM111 402h2v2h-2zM107 404h2v2h-2zM76 408h2v2h-2zM76 406h2v2h-2zM80 410h2v2h-2zM76 410h2v2h-2zM82 406h2v2h-2zM84 408h2v2h-2zM82 410h2v2h-2zM82 408h2v2h-2zM96 408h3v2h-3zM94 406h2v2h-2zM96 410h3v2h-3zM96 406h3v2h-3zM99 408h2v2h-2zM101 408h2v2h-2zM105 410h2v2h-2zM101 406h2v2h-2zM105 406h2v2h-2zM101 410h2v2h-2zM111 410h2v2h-2zM111 406h2v2h-2zM109 408h2v2h-2zM107 406h2v2h-2zM113 406h2v2h-2zM115 410h2v2h-2zM115 408h2v2h-2zM117 406h2v2h-2zM90 417h2v2h-2zM90 412h2v2h-2zM94 417h2v2h-2zM99 414h2v3h-2zM96 412h3v2h-3zM99 417h2v2h-2zM96 414h3v3h-3zM115 417h2v2h-2zM113 414h2v3h-2zM117 414h2v3h-2zM113 412h2v2h-2zM119 414h2v3h-2zM121 414h2v3h-2zM119 412h2v2h-2zM123 417h2v2h-2zM121 412h2v2h-2zM92 419h2v2h-2zM88 419h2v2h-2zM94 423h2v2h-2zM96 421h3v2h-3zM94 419h2v2h-2zM94 421h2v2h-2zM111 421h2v2h-2zM109 419h2v2h-2zM111 419h2v2h-2zM109 423h2v2h-2zM115 421h2v2h-2zM115 423h2v2h-2zM117 421h2v2h-2zM117 419h2v2h-2zM142 447h2v2h-2zM138 445h2v2h-2zM142 445h2v2h-2zM140 445h2v2h-2zM133 454h3v2h-3zM131 451h2v3h-2zM136 449h2v2h-2zM136 454h2v2h-2zM131 454h2v2h-2zM234 451h2v3h-2zM232 449h2v2h-2zM230 449h2v2h-2zM230 451h2v3h-2zM195 466h2v2h-2zM195 462h2v2h-2zM197 462h2v2h-2zM195 464h2v2h-2zM210 466h2v2h-2zM205 462h2v2h-2zM207 466h3v2h-3zM207 462h3v2h-3zM205 464h2v2h-2zM224 462h2v2h-2zM224 464h2v2h-2zM228 466h2v2h-2zM226 466h2v2h-2zM228 464h2v2h-2zM216 470h2v2h-2zM214 472h2v2h-2zM214 468h2v2h-2zM212 470h2v2h-2zM212 472h2v2h-2zM228 470h2v2h-2zM224 468h2v2h-2zM226 472h2v2h-2zM226 468h2v2h-2zM212 474h2v2h-2zM212 476h2v2h-2zM214 478h2v2h-2zM214 474h2v2h-2zM220 476h2v2h-2zM218 474h2v2h-2zM218 478h2v2h-2zM222 478h2v2h-2zM230 474h2v2h-2zM230 478h2v2h-2zM234 474h2v2h-2zM234 478h2v2h-2zM207 482h3v2h-3zM210 484h2v2h-2zM205 482h2v2h-2zM207 480h3v2h-3zM205 480h2v2h-2zM220 482h2v2h-2zM218 480h2v2h-2zM222 482h2v2h-2zM222 480h2v2h-2zM218 482h2v2h-2zM224 482h2v2h-2zM226 482h2v2h-2zM226 484h2v2h-2zM228 484h2v2h-2zM234 480h2v2h-2zM230 480h2v2h-2zM234 482h2v2h-2zM234 484h2v2h-2zM236 480h2v2h-2zM238 484h2v2h-2zM240 484h2v2h-2zM240 482h2v2h-2zM121 488h2v2h-2zM121 486h2v2h-2zM123 488h2v2h-2zM119 490h2v2h-2zM123 486h2v2h-2zM214 490h2v2h-2zM212 490h2v2h-2zM214 486h2v2h-2zM216 488h2v2h-2zM216 490h2v2h-2zM228 488h2v2h-2zM224 488h2v2h-2zM226 490h2v2h-2zM224 486h2v2h-2zM226 486h2v2h-2zM117 494h2v3h-2zM113 492h2v2h-2zM115 492h2v2h-2zM113 494h2v3h-2zM117 492h2v2h-2zM123 497h2v2h-2zM119 494h2v3h-2zM228 492h2v2h-2zM224 497h2v2h-2zM226 494h2v3h-2zM228 497h2v2h-2zM121 499h2v2h-2zM123 501h2v2h-2zM119 499h2v2h-2zM119 503h2v2h-2zM129 499h2v2h-2zM125 499h2v2h-2zM125 503h2v2h-2zM127 501h2v2h-2zM125 501h2v2h-2zM152 499h2v2h-2zM152 501h2v2h-2zM150 499h2v2h-2zM154 499h2v2h-2zM154 501h2v2h-2zM156 503h2v2h-2zM158 499h2v2h-2zM156 499h2v2h-2zM160 499h2v2h-2zM160 503h2v2h-2zM168 499h2v2h-2zM170 499h3v2h-3zM168 503h2v2h-2zM173 501h2v2h-2zM177 499h2v2h-2zM177 503h2v2h-2zM175 501h2v2h-2zM175 499h2v2h-2zM179 503h2v2h-2zM181 499h2v2h-2zM183 501h2v2h-2zM185 501h2v2h-2zM185 503h2v2h-2zM183 503h2v2h-2zM191 501h2v2h-2zM189 499h2v2h-2zM187 501h2v2h-2zM187 503h2v2h-2zM187 499h2v2h-2zM224 501h2v2h-2zM226 499h2v2h-2zM226 501h2v2h-2zM224 503h2v2h-2zM257 499h2v2h-2zM255 503h2v2h-2zM255 501h2v2h-2zM255 499h2v2h-2zM125 507h2v2h-2zM152 507h2v2h-2zM152 509h2v2h-2zM158 507h2v2h-2zM160 505h2v2h-2zM160 507h2v2h-2zM156 509h2v2h-2zM158 509h2v2h-2zM164 509h2v2h-2zM162 509h2v2h-2zM179 505h2v2h-2zM175 507h2v2h-2zM177 509h2v2h-2zM179 507h2v2h-2zM189 509h2v2h-2zM187 507h2v2h-2zM189 505h2v2h-2zM187 509h2v2h-2zM195 505h2v2h-2zM195 509h2v2h-2zM197 505h2v2h-2zM195 507h2v2h-2zM203 505h2v2h-2zM201 509h2v2h-2zM199 505h2v2h-2zM203 509h2v2h-2zM201 507h2v2h-2zM216 507h2v2h-2zM212 505h2v2h-2zM214 507h2v2h-2zM216 509h2v2h-2zM212 509h2v2h-2zM218 507h2v2h-2zM218 505h2v2h-2zM222 505h2v2h-2zM220 507h2v2h-2zM244 509h3v2h-3zM244 507h3v2h-3zM247 509h2v2h-2zM247 505h2v2h-2zM242 505h2v2h-2zM253 505h2v2h-2zM249 509h2v2h-2zM253 509h2v2h-2zM249 507h2v2h-2zM251 509h2v2h-2zM257 507h2v2h-2zM255 507h2v2h-2zM255 509h2v2h-2zM259 507h2v2h-2zM195 515h2v2h-2zM197 513h2v2h-2zM193 511h2v2h-2zM195 511h2v2h-2zM195 513h2v2h-2zM201 515h2v2h-2zM201 511h2v2h-2zM203 513h2v2h-2zM203 515h2v2h-2zM210 511h2v2h-2zM205 513h2v2h-2zM210 513h2v2h-2zM207 515h3v2h-3zM212 515h2v2h-2zM216 515h2v2h-2zM216 513h2v2h-2zM214 511h2v2h-2zM224 511h2v2h-2zM224 513h2v2h-2zM228 513h2v2h-2zM226 511h2v2h-2zM226 513h2v2h-2zM253 515h2v2h-2zM253 513h2v2h-2zM249 513h2v2h-2zM251 513h2v2h-2zM203 517h2v2h-2zM199 521h2v2h-2zM199 517h2v2h-2zM199 519h2v2h-2zM205 519h2v2h-2zM210 521h2v2h-2zM205 517h2v2h-2zM207 517h3v2h-3zM232 521h2v2h-2zM234 521h2v2h-2zM230 519h2v2h-2zM234 517h2v2h-2zM232 519h2v2h-2zM197 525h2v2h-2zM193 525h2v2h-2zM193 523h2v2h-2zM195 525h2v2h-2zM207 523h3v2h-3zM210 523h2v2h-2zM210 527h2v2h-2zM205 525h2v2h-2zM205 523h2v2h-2zM212 527h2v2h-2zM212 523h2v2h-2zM216 523h2v2h-2zM214 523h2v2h-2zM218 527h2v2h-2zM222 523h2v2h-2zM222 527h2v2h-2zM218 523h2v2h-2zM218 525h2v2h-2zM224 525h2v2h-2zM228 523h2v2h-2zM228 527h2v2h-2zM224 527h2v2h-2zM230 527h2v2h-2zM230 523h2v2h-2zM234 523h2v2h-2zM230 525h2v2h-2zM175 531h2v3h-2zM179 531h2v3h-2zM177 531h2v3h-2zM179 529h2v2h-2zM181 531h2v3h-2zM185 529h2v2h-2zM183 534h2v2h-2zM185 531h2v3h-2zM199 534h2v2h-2zM203 531h2v3h-2zM203 534h2v2h-2zM201 529h2v2h-2zM175 536h2v2h-2zM177 540h2v2h-2zM175 540h2v2h-2zM179 536h2v2h-2zM183 540h2v2h-2zM185 536h2v2h-2zM185 540h2v2h-2zM181 536h2v2h-2zM197 538h2v2h-2zM195 540h2v2h-2zM197 536h2v2h-2zM195 538h2v2h-2z"/><path fill="#3b0f70" d="M140 335h2v2h-2zM138 333h2v2h-2zM158 333h2v2h-2zM156 335h2v2h-2zM160 333h2v2h-2zM158 335h2v2h-2zM160 335h2v2h-2zM226 337h2v2h-2zM228 333h2v2h-2zM228 335h2v2h-2zM224 333h2v2h-2zM224 337h2v2h-2zM125 339h2v2h-2zM127 343h2v2h-2zM129 339h2v2h-2zM127 339h2v2h-2zM154 339h2v2h-2zM158 339h2v2h-2zM160 339h2v2h-2zM156 341h2v2h-2zM158 343h2v2h-2zM160 343h2v2h-2zM220 343h2v2h-2zM222 341h2v2h-2zM220 339h2v2h-2zM218 339h2v2h-2zM226 341h2v2h-2zM228 341h2v2h-2zM224 339h2v2h-2zM228 339h2v2h-2zM228 343h2v2h-2zM152 349h2v2h-2zM152 347h2v2h-2zM150 349h2v2h-2zM154 347h2v2h-2zM154 345h2v2h-2zM232 347h2v2h-2zM234 347h2v2h-2zM232 349h2v2h-2zM230 347h2v2h-2zM234 345h2v2h-2zM238 359h2v2h-2zM240 361h2v2h-2zM240 359h2v2h-2zM236 357h2v2h-2zM238 357h2v2h-2zM92 363h2v2h-2zM90 367h2v2h-2zM90 363h2v2h-2zM90 365h2v2h-2zM88 363h2v2h-2zM96 367h3v2h-3zM99 365h2v2h-2zM94 365h2v2h-2zM99 367h2v2h-2zM96 365h3v2h-3zM107 365h2v2h-2zM111 367h2v2h-2zM111 365h2v2h-2zM111 363h2v2h-2zM228 367h2v2h-2zM228 365h2v2h-2zM224 363h2v2h-2zM226 365h2v2h-2zM244 363h3v2h-3zM244 365h3v2h-3zM244 367h3v2h-3zM242 367h2v2h-2zM247 363h2v2h-2zM101 374h2v2h-2zM105 374h2v2h-2zM103 374h2v2h-2zM103 369h2v2h-2zM103 371h2v3h-2zM115 371h2v3h-2zM115 374h2v2h-2zM117 369h2v2h-2zM113 371h2v3h-2zM113 369h2v2h-2zM121 371h2v3h-2zM121 374h2v2h-2zM123 369h2v2h-2zM121 369h2v2h-2zM119 371h2v3h-2zM127 369h2v2h-2zM127 374h2v2h-2zM129 374h2v2h-2zM129 369h2v2h-2zM142 369h2v2h-2zM138 374h2v2h-2zM138 369h2v2h-2zM138 371h2v3h-2zM150 371h2v3h-2zM152 374h2v2h-2zM150 374h2v2h-2zM150 369h2v2h-2zM152 369h2v2h-2zM177 371h2v3h-2zM179 369h2v2h-2zM179 371h2v3h-2zM177 374h2v2h-2zM175 374h2v2h-2zM189 374h2v2h-2zM189 369h2v2h-2zM187 369h2v2h-2zM191 374h2v2h-2zM191 369h2v2h-2zM197 374h2v2h-2zM197 371h2v3h-2zM195 371h2v3h-2zM197 369h2v2h-2zM193 374h2v2h-2zM207 374h3v2h-3zM210 371h2v3h-2zM210 369h2v2h-2zM210 374h2v2h-2zM218 369h2v2h-2zM222 374h2v2h-2zM222 369h2v2h-2zM220 371h2v3h-2zM113 378h2v2h-2zM115 376h2v2h-2zM117 378h2v2h-2zM115 380h2v2h-2zM216 376h2v2h-2zM214 376h2v2h-2zM214 378h2v2h-2zM214 380h2v2h-2zM212 376h2v2h-2zM125 382h2v2h-2zM127 382h2v2h-2zM125 386h2v2h-2zM129 386h2v2h-2zM123 388h2v2h-2zM119 392h2v2h-2zM123 392h2v2h-2zM121 388h2v2h-2zM158 449h2v2h-2zM158 451h2v3h-2zM158 454h2v2h-2zM156 454h2v2h-2zM203 458h2v2h-2zM199 458h2v2h-2zM203 456h2v2h-2zM201 460h2v2h-2zM201 456h2v2h-2zM164 464h2v2h-2zM164 466h2v2h-2zM162 464h2v2h-2zM166 466h2v2h-2zM166 468h2v2h-2zM164 472h2v2h-2zM162 468h2v2h-2zM162 472h2v2h-2z"/><path fill="#4c117a" d="M173 333h2v2h-2zM173 335h2v2h-2zM173 337h2v2h-2zM170 337h3v2h-3zM170 335h3v2h-3zM175 343h2v2h-2zM185 339h2v2h-2zM183 343h2v2h-2zM183 341h2v2h-2zM183 339h2v2h-2zM181 343h2v2h-2zM191 345h2v2h-2zM187 345h2v2h-2zM187 347h2v2h-2zM189 347h2v2h-2zM191 349h2v2h-2zM107 380h2v2h-2zM109 380h2v2h-2zM107 376h2v2h-2zM111 380h2v2h-2zM105 384h2v2h-2zM103 386h2v2h-2zM105 386h2v2h-2zM101 384h2v2h-2zM111 382h2v2h-2zM107 382h2v2h-2zM111 384h2v2h-2zM111 386h2v2h-2zM115 392h2v2h-2zM129 390h2v2h-2zM129 392h2v2h-2zM125 392h2v2h-2zM125 390h2v2h-2zM127 392h2v2h-2zM195 460h2v2h-2zM195 458h2v2h-2zM193 456h2v2h-2zM193 460h2v2h-2zM193 468h2v2h-2zM193 472h2v2h-2zM195 468h2v2h-2zM195 472h2v2h-2zM197 472h2v2h-2zM177 480h2v2h-2zM179 482h2v2h-2zM179 484h2v2h-2zM179 480h2v2h-2z"/><path fill="#6b1d81" d="M201 380h2v2h-2zM203 376h2v2h-2zM201 376h2v2h-2zM201 378h2v2h-2zM199 380h2v2h-2z"/><path fill="#8c2981" d="M199 384h2v2h-2zM199 386h2v2h-2zM203 386h2v2h-2zM201 386h2v2h-2zM203 382h2v2h-2zM203 390h2v2h-2zM201 390h2v2h-2zM199 392h2v2h-2zM203 392h2v2h-2z"/><path fill="#5c167f" d="M162 454h2v2h-2zM162 451h2v3h-2zM166 449h2v2h-2zM164 451h2v3h-2zM175 462h2v2h-2zM175 464h2v2h-2zM177 462h2v2h-2zM177 466h2v2h-2z"/></g><clipPath id="cp3"><rect x="64.65" y="605.6" width="250.2" height="249.7"/></clipPath><g clip-path="url(#cp3)"><g filter="url(#bl)"><path fill="#8c2981" d="M65 606h18v6h-18zM65 612h18v6h-18zM65 618h25v6h-25zM65 624h25v7h-25zM65 631h31v6h-31zM65 637h31v6h-31zM65 643h37v6h-37zM71 649h31v7h-31zM190 649h25v7h-25zM77 656h44v6h-44zM83 662h38v6h-38zM90 668h31v6h-31zM96 674h12v7h-12zM121 674h6v7h-6zM127 681h25v6h-25zM127 687h25v6h-25zM90 693h6v6h-6zM127 693h6v6h-6zM90 699h18v6h-18zM146 699h6v6h-6zM90 705h18v7h-18zM158 705h7v7h-7zM234 705h6v7h-6zM65 712h37v6h-37zM165 712h12v6h-12zM215 712h12v6h-12zM240 712h12v6h-12zM65 718h31v6h-31zM171 718h12v6h-12zM208 718h7v6h-7zM65 724h31v6h-31zM177 724h13v6h-13zM196 724h6v6h-6zM65 730h31v7h-31zM190 730h6v7h-6zM65 737h25v6h-25zM65 743h25v6h-25zM177 743h13v6h-13zM65 749h12v6h-12zM177 749h13v6h-13zM208 749h7v6h-7zM65 755h6v7h-6zM177 755h13v7h-13zM221 755h6v7h-6zM121 762h12v6h-12zM115 768h18v6h-18zM108 774h25v6h-25zM102 780h13v7h-13zM146 780h12v7h-12zM146 787h19v6h-19zM146 793h19v6h-19zM140 799h37v6h-37zM140 805h37v7h-37zM140 812h37v6h-37zM140 818h37v6h-37zM133 824h69v6h-69zM133 830h75v7h-75zM133 837h82v6h-82zM133 843h82v6h-82zM127 849h94v6h-94z"/><path fill="#7c2382" d="M83 606h38v6h-38zM240 606h6v6h-6zM252 606h63v6h-63zM83 612h38v6h-38zM234 612h12v6h-12zM252 612h63v6h-63zM90 618h31v6h-31zM234 618h12v6h-12zM252 618h63v6h-63zM90 624h31v7h-31zM227 624h19v7h-19zM252 624h63v7h-63zM96 631h25v6h-25zM221 631h19v6h-19zM252 631h63v6h-63zM96 637h25v6h-25zM221 637h19v6h-19zM252 637h63v6h-63zM102 643h19v6h-19zM183 643h51v6h-51zM252 643h63v6h-63zM65 649h6v7h-6zM102 649h19v7h-19zM215 649h19v7h-19zM252 649h63v7h-63zM65 656h12v6h-12zM252 656h63v6h-63zM65 662h18v6h-18zM252 662h63v6h-63zM65 668h25v6h-25zM252 668h63v6h-63zM65 674h31v7h-31zM252 674h63v7h-63zM65 681h31v6h-31zM252 681h63v6h-63zM65 687h31v6h-31zM271 687h44v6h-44zM65 693h25v6h-25zM65 699h25v6h-25zM140 699h6v6h-6zM65 705h25v7h-25zM146 705h12v7h-12zM152 712h13v6h-13zM227 712h13v6h-13zM165 718h6v6h-6zM215 718h19v6h-19zM246 718h6v6h-6zM171 724h6v6h-6zM202 724h6v6h-6zM240 724h12v6h-12zM240 730h12v7h-12zM183 737h19v6h-19zM171 743h6v6h-6zM171 749h6v6h-6zM215 749h6v6h-6zM171 755h6v7h-6zM227 755h7v7h-7zM227 762h7v6h-7z"/><path fill="#ed5a5f" d="M121 606h25v6h-25zM152 606h6v6h-6zM121 612h25v6h-25zM152 612h6v6h-6zM121 618h25v6h-25zM152 618h6v6h-6zM121 624h25v7h-25zM152 624h6v7h-6zM121 631h19v6h-19zM152 631h6v6h-6zM171 631h6v6h-6zM121 637h19v6h-19zM152 637h6v6h-6zM171 637h6v6h-6zM121 643h12v6h-12zM152 643h6v6h-6zM171 643h6v6h-6zM121 649h12v7h-12zM152 649h6v7h-6zM171 649h6v7h-6zM152 656h6v6h-6zM171 656h6v6h-6zM127 662h6v6h-6zM158 662h7v6h-7zM177 662h6v6h-6zM221 662h6v6h-6zM208 668h7v6h-7zM221 668h6v6h-6zM208 674h19v7h-19zM165 681h18v6h-18zM208 681h19v6h-19zM165 687h6v6h-6zM165 693h6v6h-6zM177 699h19v6h-19zM165 762h6v6h-6zM215 762h6v6h-6zM158 768h19v6h-19zM183 768h13v6h-13zM215 768h6v6h-6zM265 768h12v6h-12zM158 774h19v6h-19zM183 774h19v6h-19zM208 774h26v6h-26zM265 774h12v6h-12zM208 780h26v7h-26zM271 780h13v7h-13zM215 787h19v6h-19zM265 787h12v6h-12z"/><path fill="#f56b5c" d="M146 606h6v6h-6zM146 612h6v6h-6zM158 612h7v6h-7zM146 618h6v6h-6zM158 618h7v6h-7zM146 624h6v7h-6zM158 624h13v7h-13zM140 631h12v6h-12zM158 631h13v6h-13zM140 637h12v6h-12zM158 637h13v6h-13zM133 643h19v6h-19zM158 643h13v6h-13zM177 643h6v6h-6zM133 649h19v7h-19zM158 649h13v7h-13zM177 649h13v7h-13zM121 656h31v6h-31zM158 656h13v6h-13zM177 656h13v6h-13zM202 656h25v6h-25zM121 662h6v6h-6zM133 662h7v6h-7zM146 662h12v6h-12zM165 662h12v6h-12zM183 662h13v6h-13zM202 662h19v6h-19zM121 668h87v6h-87zM215 668h6v6h-6zM127 674h6v7h-6zM140 674h68v7h-68zM96 681h31v6h-31zM96 687h25v6h-25zM171 687h19v6h-19zM96 693h12v6h-12zM171 693h6v6h-6zM177 768h6v6h-6zM252 774h13v6h-13zM259 780h12v7h-12zM252 787h13v6h-13z"/><path fill="#6b1d81" d="M158 606h82v6h-82zM165 612h69v6h-69zM165 618h69v6h-69zM171 624h56v7h-56zM177 631h44v6h-44zM177 637h44v6h-44zM108 693h19v6h-19zM115 699h25v6h-25zM133 705h13v7h-13zM152 718h13v6h-13zM234 718h12v6h-12zM158 724h13v6h-13zM208 724h13v6h-13zM227 724h13v6h-13zM115 730h12v7h-12zM165 730h25v7h-25zM196 730h19v7h-19zM96 737h31v6h-31zM140 737h6v6h-6zM152 737h6v6h-6zM165 737h18v6h-18zM202 737h6v6h-6zM90 743h37v6h-37zM152 743h19v6h-19zM190 743h18v6h-18zM77 749h50v6h-50zM158 749h13v6h-13zM221 749h6v6h-6zM71 755h56v7h-56zM158 755h13v7h-13zM65 762h56v6h-56zM65 768h50v6h-50zM65 774h43v6h-43zM65 780h37v7h-37zM115 780h31v7h-31zM65 787h81v6h-81zM65 793h81v6h-81zM65 799h75v6h-75zM65 805h75v7h-75zM65 812h75v6h-75zM65 818h75v6h-75zM65 824h68v6h-68zM65 830h68v7h-68zM65 837h68v6h-68zM65 843h68v6h-68zM65 849h62v6h-62z"/><path fill="#c23b75" d="M246 606h6v6h-6zM246 612h6v6h-6zM246 618h6v6h-6zM246 624h6v7h-6zM240 631h12v6h-12zM240 637h12v6h-12zM240 643h12v6h-12zM240 649h12v7h-12zM240 656h12v6h-12zM227 662h7v6h-7zM240 662h12v6h-12zM227 668h25v6h-25zM227 674h25v7h-25zM227 681h25v6h-25zM133 693h7v6h-7zM208 693h7v6h-7zM152 699h6v6h-6zM202 699h13v6h-13zM171 705h19v7h-19zM208 705h13v7h-13zM190 712h12v6h-12zM190 718h12v6h-12zM190 755h25v7h-25zM190 762h18v6h-18zM196 768h6v6h-6zM284 768h31v6h-31zM284 774h31v6h-31zM183 780h25v7h-25zM234 780h18v7h-18zM284 780h31v7h-31zM177 787h13v6h-13zM196 787h19v6h-19zM234 787h18v6h-18zM284 787h31v6h-31zM196 793h31v6h-31zM234 793h18v6h-18zM290 793h25v6h-25zM190 799h31v6h-31zM234 799h18v6h-18zM296 799h19v6h-19zM196 805h12v7h-12zM302 805h13v7h-13zM202 812h6v6h-6zM309 812h6v6h-6zM202 818h6v6h-6z"/><path fill="#d2426f" d="M234 643h6v6h-6zM234 649h6v7h-6zM234 656h6v6h-6zM234 662h6v6h-6zM152 687h6v6h-6zM215 687h6v6h-6zM140 693h12v6h-12zM215 693h6v6h-6zM158 699h13v6h-13zM196 699h6v6h-6zM215 699h6v6h-6zM190 705h18v7h-18zM252 712h7v6h-7zM252 718h7v6h-7zM252 724h7v6h-7zM171 762h12v6h-12zM277 768h7v6h-7zM277 774h7v6h-7zM158 780h25v7h-25zM171 787h6v6h-6zM277 787h7v6h-7zM252 793h13v6h-13zM277 793h13v6h-13zM252 799h7v6h-7zM284 799h12v6h-12zM252 805h7v7h-7zM290 805h12v7h-12zM252 812h13v6h-13zM296 812h13v6h-13zM252 818h19v6h-19zM302 818h13v6h-13zM252 824h19v6h-19zM309 824h6v6h-6zM252 830h25v7h-25zM259 837h18v6h-18zM265 843h19v6h-19zM271 849h13v6h-13z"/><path fill="#fa7d5e" d="M190 656h12v6h-12zM140 662h6v6h-6zM196 662h6v6h-6zM196 687h19v6h-19zM177 693h31v6h-31zM252 780h7v7h-7z"/><path fill="#e24d66" d="M227 656h7v6h-7zM108 674h13v7h-13zM133 674h7v7h-7zM152 681h13v6h-13zM121 687h6v6h-6zM158 687h7v6h-7zM221 687h25v6h-25zM252 687h19v6h-19zM152 693h13v6h-13zM221 693h19v6h-19zM252 693h25v6h-25zM171 699h6v6h-6zM221 699h19v6h-19zM252 699h19v6h-19zM252 705h13v7h-13zM183 762h7v6h-7zM208 762h7v6h-7zM221 762h6v6h-6zM202 768h13v6h-13zM221 768h13v6h-13zM177 774h6v6h-6zM202 774h6v6h-6zM265 793h12v6h-12zM259 799h25v6h-25zM259 805h31v7h-31zM265 812h31v6h-31zM271 818h31v6h-31zM271 824h38v6h-38zM277 830h38v7h-38zM277 837h38v6h-38zM284 843h31v6h-31zM284 849h31v6h-31z"/><path fill="#fd9266" d="M183 681h25v6h-25zM190 687h6v6h-6z"/><path fill="#b2357b" d="M246 687h6v6h-6zM240 693h12v6h-12zM240 699h12v6h-12zM165 705h6v7h-6zM221 705h13v7h-13zM240 705h12v7h-12zM102 712h6v6h-6zM177 712h13v6h-13zM202 712h13v6h-13zM96 718h19v6h-19zM183 718h7v6h-7zM202 718h6v6h-6zM96 724h25v6h-25zM190 724h6v6h-6zM96 730h19v7h-19zM90 737h6v6h-6zM190 749h18v6h-18zM215 755h6v7h-6zM165 787h6v6h-6zM190 787h6v6h-6zM165 793h31v6h-31zM227 793h7v6h-7zM177 799h13v6h-13zM221 799h13v6h-13zM177 805h19v7h-19zM208 805h44v7h-44zM177 812h25v6h-25zM208 812h13v6h-13zM234 812h18v6h-18zM177 818h25v6h-25zM240 818h12v6h-12zM246 824h6v6h-6z"/><path fill="#5c167f" d="M277 693h38v6h-38zM108 699h7v6h-7zM271 699h44v6h-44zM108 705h25v7h-25zM265 705h44v7h-44zM108 712h44v6h-44zM259 712h37v6h-37zM115 718h37v6h-37zM259 718h31v6h-31zM121 724h37v6h-37zM221 724h6v6h-6zM259 724h18v6h-18zM127 730h38v7h-38zM215 730h25v7h-25zM252 730h25v7h-25zM127 737h13v6h-13zM146 737h6v6h-6zM158 737h7v6h-7zM208 737h63v6h-63zM127 743h25v6h-25zM208 743h26v6h-26zM152 749h6v6h-6zM227 749h13v6h-13zM252 762h7v6h-7zM252 768h7v6h-7z"/><path fill="#4c117a" d="M309 705h6v7h-6zM296 712h19v6h-19zM290 718h25v6h-25zM277 724h38v6h-38zM277 730h38v7h-38zM271 737h44v6h-44zM234 743h81v6h-81zM127 749h25v6h-25zM240 749h75v6h-75zM127 755h31v7h-31zM234 755h12v7h-12zM252 755h63v7h-63zM133 762h32v6h-32zM234 762h12v6h-12zM259 762h56v6h-56zM133 768h25v6h-25zM234 768h6v6h-6zM259 768h6v6h-6zM133 774h25v6h-25z"/><path fill="#3b0f70" d="M246 755h6v7h-6zM246 762h6v6h-6zM240 768h12v6h-12zM234 774h18v6h-18zM221 812h13v6h-13zM208 818h32v6h-32zM202 824h44v6h-44zM208 830h44v7h-44zM215 837h44v6h-44zM215 843h50v6h-50zM221 849h50v6h-50z"/></g><rect x="64.65" y="605.6" width="250.2" height="249.7" filter="url(#nz)" style="mix-blend-mode:overlay" opacity="0.5"/><path fill="#fff" d="M65 606h250v6h-250zM65 612h250v6h-250zM65 618h250v6h-250zM65 624h250v7h-250zM65 631h250v6h-250zM65 637h131v6h-131zM208 637h107v6h-107zM65 643h131v6h-131zM208 643h107v6h-107zM65 649h43v7h-43zM115 649h6v7h-6zM127 649h69v7h-69zM208 649h7v7h-7zM227 649h88v7h-88zM65 656h31v6h-31zM271 656h44v6h-44zM65 662h31v6h-31zM108 662h7v6h-7zM234 662h12v6h-12zM259 662h6v6h-6zM271 662h44v6h-44zM65 668h31v6h-31zM108 668h19v6h-19zM215 668h100v6h-100zM65 674h18v7h-18zM96 674h19v7h-19zM127 674h6v7h-6zM140 674h175v7h-175zM65 681h18v6h-18zM90 681h12v6h-12zM108 681h7v6h-7zM177 681h13v6h-13zM202 681h113v6h-113zM65 687h56v6h-56zM202 687h113v6h-113zM65 693h56v6h-56zM127 693h6v6h-6zM202 693h113v6h-113zM65 699h56v6h-56zM234 699h81v6h-81zM65 705h18v7h-18zM96 705h19v7h-19zM259 705h56v7h-56zM65 712h18v6h-18zM96 712h19v6h-19zM265 712h50v6h-50zM65 718h18v6h-18zM90 718h12v6h-12zM115 718h6v6h-6zM127 718h6v6h-6zM259 718h6v6h-6zM271 718h44v6h-44zM65 724h37v6h-37zM115 724h6v6h-6zM127 724h13v6h-13zM158 724h7v6h-7zM265 724h50v6h-50zM65 730h56v7h-56zM240 730h12v7h-12zM259 730h6v7h-6zM271 730h44v7h-44zM65 737h43v6h-43zM252 737h7v6h-7zM284 737h31v6h-31zM65 743h43v6h-43zM290 743h25v6h-25zM65 749h43v6h-43zM271 749h6v6h-6zM290 749h25v6h-25zM65 755h50v7h-50zM127 755h6v7h-6zM158 755h19v7h-19zM265 755h6v7h-6zM277 755h38v7h-38zM65 762h56v6h-56zM127 762h6v6h-6zM152 762h25v6h-25zM190 762h18v6h-18zM227 762h7v6h-7zM265 762h50v6h-50zM65 768h106v6h-106zM190 768h25v6h-25zM221 768h19v6h-19zM259 768h56v6h-56zM65 774h112v6h-112zM183 774h38v6h-38zM227 774h25v6h-25zM290 774h25v6h-25zM65 780h106v7h-106zM190 780h56v7h-56zM290 780h25v7h-25zM65 787h112v6h-112zM183 787h63v6h-63zM284 787h31v6h-31zM65 793h62v6h-62zM133 793h19v6h-19zM208 793h38v6h-38zM277 793h38v6h-38zM65 799h87v6h-87zM215 799h31v6h-31zM271 799h44v6h-44zM65 805h125v7h-125zM196 805h6v7h-6zM221 805h25v7h-25zM259 805h56v7h-56zM65 812h250v6h-250zM65 818h156v6h-156zM227 818h88v6h-88zM65 824h150v6h-150zM234 824h81v6h-81zM65 830h250v7h-250zM65 837h125v6h-125zM202 837h113v6h-113zM65 843h125v6h-125zM196 843h119v6h-119zM65 849h250v6h-250zM148 737h3v3h-3zM160 741h3v3h-3zM117 751h3v3h-3z"/><path fill="#4c117a" d="M165 606h2v2h-2zM169 606h2v2h-2zM169 608h2v2h-2zM167 608h2v2h-2zM188 608h2v2h-2zM188 610h2v2h-2zM192 608h2v2h-2zM192 610h2v2h-2zM190 610h2v2h-2zM192 606h2v2h-2zM200 610h2v2h-2zM198 606h2v2h-2zM213 610h2v2h-2zM154 612h2v2h-2zM152 616h2v2h-2zM156 612h2v2h-2zM152 612h2v2h-2zM154 616h2v2h-2zM160 614h3v2h-3zM160 616h3v2h-3zM163 614h2v2h-2zM158 612h2v2h-2zM160 612h3v2h-3zM173 612h2v2h-2zM171 612h2v2h-2zM173 614h2v2h-2zM175 616h2v2h-2zM175 612h2v2h-2zM183 614h2v2h-2zM183 612h2v2h-2zM188 614h2v2h-2zM188 612h2v2h-2zM185 612h3v2h-3zM198 614h2v2h-2zM200 614h2v2h-2zM204 612h2v2h-2zM202 614h2v2h-2zM202 612h2v2h-2zM204 614h2v2h-2zM217 614h2v2h-2zM215 614h2v2h-2zM223 616h2v2h-2zM221 614h2v2h-2zM146 620h2v2h-2zM146 618h2v2h-2zM148 618h2v2h-2zM146 622h2v2h-2zM156 620h2v2h-2zM154 620h2v2h-2zM156 618h2v2h-2zM152 620h2v2h-2zM179 620h2v2h-2zM181 618h2v2h-2zM181 620h2v2h-2zM177 620h2v2h-2zM177 618h2v2h-2zM183 622h2v2h-2zM204 618h2v2h-2zM204 622h2v2h-2zM210 618h3v2h-3zM210 622h3v2h-3zM208 620h2v2h-2zM208 622h2v2h-2zM219 622h2v2h-2zM229 622h3v2h-3zM229 620h3v2h-3zM148 624h2v2h-2zM146 626h2v3h-2zM160 629h3v2h-3zM163 629h2v2h-2zM183 624h2v2h-2zM210 626h3v3h-3zM213 626h2v3h-2zM210 624h3v2h-3zM213 624h2v2h-2zM219 626h2v3h-2zM217 626h2v3h-2zM227 629h2v2h-2zM229 629h3v2h-3zM236 629h2v2h-2zM238 629h2v2h-2zM113 631h2v2h-2zM108 635h2v2h-2zM142 633h2v2h-2zM142 635h2v2h-2zM163 633h2v2h-2zM163 631h2v2h-2zM160 633h3v2h-3zM158 633h2v2h-2zM158 635h2v2h-2zM175 633h2v2h-2zM171 635h2v2h-2zM188 631h2v2h-2zM185 633h3v2h-3zM219 631h2v2h-2zM223 631h2v2h-2zM238 633h2v2h-2zM236 635h2v2h-2zM240 633h2v2h-2zM142 639h2v2h-2zM140 637h2v2h-2zM140 639h2v2h-2zM144 641h2v2h-2zM160 637h3v2h-3zM160 641h3v2h-3zM163 641h2v2h-2zM158 637h2v2h-2zM163 637h2v2h-2zM169 637h2v2h-2zM165 639h2v2h-2zM167 639h2v2h-2zM169 641h2v2h-2zM167 637h2v2h-2zM232 641h2v2h-2zM232 637h2v2h-2zM229 639h3v2h-3zM227 637h2v2h-2zM236 639h2v2h-2zM254 641h3v2h-3zM252 637h2v2h-2zM252 641h2v2h-2zM257 639h2v2h-2zM254 637h3v2h-3zM279 649h3v2h-3zM279 654h3v2h-3zM277 649h2v2h-2zM282 651h2v3h-2zM279 651h3v3h-3zM79 664h2v2h-2zM81 666h2v2h-2zM261 679h2v2h-2zM215 685h2v2h-2zM215 681h2v2h-2zM242 681h2v2h-2zM282 683h2v2h-2zM277 681h2v2h-2zM279 681h3v2h-3zM282 685h2v2h-2zM279 683h3v2h-3zM250 691h2v2h-2zM248 689h2v2h-2zM259 687h2v2h-2zM284 693h2v2h-2zM286 697h2v2h-2zM288 695h2v2h-2zM284 697h2v2h-2zM294 697h2v2h-2zM292 695h2v2h-2zM294 695h2v2h-2zM294 693h2v2h-2zM290 697h2v2h-2zM267 701h2v2h-2zM269 701h2v2h-2zM290 703h2v2h-2zM292 699h2v2h-2zM271 705h2v2h-2zM67 714h2v2h-2zM67 716h2v2h-2zM292 718h2v2h-2zM292 722h2v2h-2zM290 720h2v2h-2zM290 722h2v2h-2zM290 718h2v2h-2zM298 718h2v2h-2zM298 722h2v2h-2zM296 720h2v2h-2zM300 720h2v2h-2zM71 724h2v2h-2zM298 728h2v2h-2zM298 724h2v2h-2zM298 726h2v2h-2zM296 726h2v2h-2zM307 726h2v2h-2zM304 728h3v2h-3zM304 724h3v2h-3zM302 728h2v2h-2zM307 724h2v2h-2zM79 730h2v2h-2zM77 732h2v3h-2zM77 730h2v2h-2zM81 735h2v2h-2zM279 730h3v2h-3zM282 735h2v2h-2zM282 732h2v3h-2zM279 732h3v3h-3zM307 735h2v2h-2zM304 730h3v2h-3zM304 732h3v3h-3zM302 735h2v2h-2zM313 732h2v3h-2zM313 730h2v2h-2zM309 732h2v3h-2zM311 730h2v2h-2zM309 730h2v2h-2zM94 739h2v2h-2zM90 739h2v2h-2zM92 739h2v2h-2zM90 741h2v2h-2zM288 741h2v2h-2zM284 739h2v2h-2zM288 739h2v2h-2zM286 737h2v2h-2zM286 741h2v2h-2zM292 737h2v2h-2zM290 741h2v2h-2zM292 741h2v2h-2zM292 739h2v2h-2zM294 739h2v2h-2zM300 737h2v2h-2zM296 739h2v2h-2zM300 739h2v2h-2zM296 741h2v2h-2zM290 747h2v2h-2zM292 745h2v2h-2zM294 745h2v2h-2zM290 745h2v2h-2zM290 743h2v2h-2zM302 745h2v2h-2zM307 747h2v2h-2zM307 743h2v2h-2zM304 743h3v2h-3zM304 747h3v2h-3zM77 749h2v2h-2zM81 751h2v2h-2zM88 751h2v2h-2zM83 753h2v2h-2zM94 751h2v2h-2zM90 753h2v2h-2zM92 753h2v2h-2zM94 749h2v2h-2zM92 749h2v2h-2zM271 751h2v2h-2zM273 753h2v2h-2zM273 751h2v2h-2zM273 749h2v2h-2zM271 753h2v2h-2zM294 749h2v2h-2zM292 749h2v2h-2zM292 753h2v2h-2zM292 751h2v2h-2zM85 760h3v2h-3zM83 755h2v2h-2zM94 760h2v2h-2zM92 757h2v3h-2zM90 755h2v2h-2zM92 760h2v2h-2zM269 755h2v2h-2zM267 757h2v3h-2zM269 757h2v3h-2zM269 760h2v2h-2zM265 755h2v2h-2zM279 755h3v2h-3zM277 755h2v2h-2zM282 760h2v2h-2zM282 755h2v2h-2zM279 757h3v3h-3zM284 757h2v3h-2zM286 755h2v2h-2zM288 760h2v2h-2zM284 755h2v2h-2zM294 757h2v3h-2zM290 757h2v3h-2zM290 760h2v2h-2zM292 757h2v3h-2zM292 760h2v2h-2zM90 762h2v2h-2zM94 766h2v2h-2zM154 764h2v2h-2zM152 764h2v2h-2zM154 762h2v2h-2zM152 762h2v2h-2zM152 766h2v2h-2zM269 764h2v2h-2zM269 762h2v2h-2zM265 762h2v2h-2zM269 766h2v2h-2zM265 766h2v2h-2zM271 764h2v2h-2zM275 766h2v2h-2zM273 766h2v2h-2zM275 764h2v2h-2zM282 766h2v2h-2zM277 762h2v2h-2zM282 762h2v2h-2zM282 764h2v2h-2zM290 762h2v2h-2zM294 766h2v2h-2zM290 764h2v2h-2zM292 766h2v2h-2zM104 772h2v2h-2zM104 768h2v2h-2zM106 772h2v2h-2zM102 770h2v2h-2zM102 772h2v2h-2zM133 768h2v2h-2zM135 772h3v2h-3zM138 770h2v2h-2zM133 772h2v2h-2zM140 770h2v2h-2zM144 768h2v2h-2zM144 772h2v2h-2zM140 772h2v2h-2zM144 770h2v2h-2zM150 770h2v2h-2zM146 770h2v2h-2zM146 772h2v2h-2zM146 768h2v2h-2zM154 772h2v2h-2zM152 768h2v2h-2zM154 768h2v2h-2zM156 768h2v2h-2zM154 770h2v2h-2zM234 768h2v2h-2zM234 772h2v2h-2zM238 772h2v2h-2zM236 768h2v2h-2zM238 770h2v2h-2zM261 768h2v2h-2zM261 770h2v2h-2zM263 772h2v2h-2zM259 772h2v2h-2zM138 778h2v2h-2zM138 774h2v2h-2zM133 778h2v2h-2zM133 776h2v2h-2zM135 774h3v2h-3zM142 776h2v2h-2zM140 774h2v2h-2zM144 778h2v2h-2zM140 778h2v2h-2zM140 776h2v2h-2zM148 778h2v2h-2zM146 774h2v2h-2zM150 776h2v2h-2zM150 774h2v2h-2zM146 778h2v2h-2zM152 774h2v2h-2zM152 776h2v2h-2zM156 774h2v2h-2zM156 778h2v2h-2zM196 776h2v2h-2zM198 776h2v2h-2zM196 778h2v2h-2zM196 774h2v2h-2zM202 778h2v2h-2zM204 774h2v2h-2zM206 774h2v2h-2zM206 778h2v2h-2zM204 778h2v2h-2zM90 782h2v3h-2zM94 785h2v2h-2zM94 780h2v2h-2zM92 782h2v3h-2zM100 780h2v2h-2zM96 780h2v2h-2zM96 785h2v2h-2zM98 785h2v2h-2zM98 780h2v2h-2zM110 780h3v2h-3zM108 785h2v2h-2zM110 782h3v3h-3zM108 782h2v3h-2zM113 782h2v3h-2zM125 780h2v2h-2zM123 780h2v2h-2zM123 785h2v2h-2zM125 785h2v2h-2zM121 785h2v2h-2zM150 782h2v3h-2zM150 780h2v2h-2zM146 782h2v3h-2zM148 780h2v2h-2zM146 780h2v2h-2zM208 785h2v2h-2zM208 780h2v2h-2zM208 782h2v3h-2zM210 780h3v2h-3zM210 785h3v2h-3zM102 789h2v2h-2zM106 787h2v2h-2zM106 789h2v2h-2zM102 787h2v2h-2zM104 789h2v2h-2zM217 789h2v2h-2zM215 791h2v2h-2zM219 789h2v2h-2zM219 787h2v2h-2zM96 797h2v2h-2zM98 795h2v2h-2zM221 795h2v2h-2zM221 793h2v2h-2zM223 797h2v2h-2zM223 793h2v2h-2zM227 795h2v2h-2zM232 793h2v2h-2zM232 797h2v2h-2zM232 795h2v2h-2zM229 797h3v2h-3zM100 799h2v2h-2zM110 799h3v2h-3zM110 803h3v2h-3zM232 803h2v2h-2zM227 799h2v2h-2zM227 803h2v2h-2zM229 801h3v2h-3zM232 801h2v2h-2zM286 801h2v2h-2zM288 803h2v2h-2zM288 799h2v2h-2zM286 803h2v2h-2zM110 810h3v2h-3zM123 807h2v3h-2zM121 805h2v2h-2zM125 805h2v2h-2zM121 807h2v3h-2zM144 810h2v2h-2zM142 805h2v2h-2zM140 805h2v2h-2zM140 810h2v2h-2zM144 807h2v3h-2zM119 812h2v2h-2zM119 814h2v2h-2zM123 814h2v2h-2zM123 816h2v2h-2zM123 812h2v2h-2zM121 816h2v2h-2zM129 814h2v2h-2zM131 814h2v2h-2zM129 816h2v2h-2zM127 812h2v2h-2zM148 816h2v2h-2zM150 812h2v2h-2zM146 814h2v2h-2zM146 816h2v2h-2zM148 812h2v2h-2zM273 814h2v2h-2zM273 816h2v2h-2zM275 812h2v2h-2zM271 812h2v2h-2zM110 818h3v2h-3zM113 818h2v2h-2zM108 818h2v2h-2zM110 820h3v2h-3zM108 820h2v2h-2zM115 818h2v2h-2zM115 820h2v2h-2zM117 818h2v2h-2zM117 820h2v2h-2zM117 822h2v2h-2zM125 822h2v2h-2zM127 820h2v2h-2zM131 822h2v2h-2zM146 822h2v2h-2zM160 818h3v2h-3zM167 818h2v2h-2zM169 820h2v2h-2zM167 822h2v2h-2zM165 820h2v2h-2zM169 822h2v2h-2zM198 818h2v2h-2zM200 818h2v2h-2zM196 820h2v2h-2zM196 818h2v2h-2zM263 820h2v2h-2zM261 820h2v2h-2zM259 822h2v2h-2zM259 818h2v2h-2zM261 822h2v2h-2zM117 824h2v2h-2zM117 828h2v2h-2zM115 828h2v2h-2zM119 824h2v2h-2zM115 826h2v2h-2zM152 828h2v2h-2zM167 824h2v2h-2zM165 826h2v2h-2zM167 826h2v2h-2zM169 826h2v2h-2zM123 830h2v2h-2zM127 830h2v2h-2zM129 830h2v2h-2zM131 830h2v2h-2zM131 832h2v3h-2zM133 830h2v2h-2zM133 832h2v3h-2zM138 830h2v2h-2zM135 830h3v2h-3zM146 830h2v2h-2zM160 835h3v2h-3zM244 832h2v3h-2zM242 830h2v2h-2zM240 835h2v2h-2zM240 830h2v2h-2zM148 839h2v2h-2zM146 839h2v2h-2zM146 841h2v2h-2zM148 841h2v2h-2zM150 837h2v2h-2zM175 837h2v2h-2zM173 837h2v2h-2zM142 843h2v2h-2zM140 845h2v2h-2zM152 847h2v2h-2zM154 843h2v2h-2zM160 845h3v2h-3zM163 845h2v2h-2zM160 847h3v2h-3zM160 843h3v2h-3zM158 843h2v2h-2zM173 843h2v2h-2zM171 843h2v2h-2zM171 847h2v2h-2zM175 845h2v2h-2zM175 843h2v2h-2zM213 845h2v2h-2zM213 843h2v2h-2zM210 843h3v2h-3zM210 847h3v2h-3zM215 845h2v2h-2zM217 843h2v2h-2zM219 843h2v2h-2zM219 847h2v2h-2zM158 849h2v2h-2zM158 851h2v2h-2zM160 853h3v2h-3zM163 853h2v2h-2zM160 849h3v2h-3zM165 849h2v2h-2zM165 853h2v2h-2zM165 851h2v2h-2zM167 853h2v2h-2zM171 853h2v2h-2zM175 849h2v2h-2zM175 853h2v2h-2zM173 849h2v2h-2zM179 849h2v2h-2zM181 851h2v2h-2zM179 853h2v2h-2zM181 853h2v2h-2zM181 849h2v2h-2z"/><path fill="#6b1d81" d="M206 629h2v2h-2zM210 635h3v2h-3zM210 637h3v2h-3zM213 641h2v2h-2zM208 637h2v2h-2zM213 639h2v2h-2zM119 695h2v2h-2zM115 695h2v2h-2zM119 697h2v2h-2zM115 697h2v2h-2zM117 693h2v2h-2zM119 703h2v2h-2zM119 701h2v2h-2zM115 703h2v2h-2zM117 703h2v2h-2zM158 728h2v2h-2zM160 726h3v2h-3zM160 724h3v2h-3zM158 726h2v2h-2zM163 724h2v2h-2zM115 735h2v2h-2zM115 732h2v3h-2zM119 730h2v2h-2zM117 735h2v2h-2zM119 735h2v2h-2zM110 760h3v2h-3zM108 760h2v2h-2zM108 755h2v2h-2zM113 755h2v2h-2zM113 766h2v2h-2zM108 764h2v2h-2zM110 764h3v2h-3zM110 762h3v2h-3zM127 782h2v3h-2zM131 782h2v3h-2zM127 780h2v2h-2zM131 785h2v2h-2zM123 789h2v2h-2zM121 789h2v2h-2zM125 791h2v2h-2zM121 791h2v2h-2zM125 787h2v2h-2zM115 797h2v2h-2zM121 795h2v2h-2zM123 795h2v2h-2zM123 793h2v2h-2zM121 797h2v2h-2zM125 797h2v2h-2zM133 793h2v2h-2zM133 797h2v2h-2zM135 793h3v2h-3zM133 795h2v2h-2zM121 801h2v2h-2zM123 803h2v2h-2zM123 799h2v2h-2zM121 799h2v2h-2zM123 801h2v2h-2zM129 799h2v2h-2zM127 799h2v2h-2zM127 801h2v2h-2zM127 803h2v2h-2zM131 807h2v3h-2zM131 805h2v2h-2zM127 810h2v2h-2zM129 805h2v2h-2zM129 810h2v2h-2z"/><path fill="#7c2382" d="M223 641h2v2h-2zM223 637h2v2h-2zM183 647h2v2h-2zM185 647h3v2h-3zM188 643h2v2h-2zM183 643h2v2h-2zM188 645h2v2h-2zM208 645h2v2h-2zM208 643h2v2h-2zM213 645h2v2h-2zM210 643h3v2h-3zM219 645h2v2h-2zM215 643h2v2h-2zM217 647h2v2h-2zM219 647h2v2h-2zM217 643h2v2h-2zM225 645h2v2h-2zM223 643h2v2h-2zM229 643h3v2h-3zM227 647h2v2h-2zM229 645h3v2h-3zM232 647h2v2h-2zM254 643h3v2h-3zM257 645h2v2h-2zM254 645h3v2h-3zM252 643h2v2h-2zM263 647h2v2h-2zM263 643h2v2h-2zM261 643h2v2h-2zM261 647h2v2h-2zM227 654h2v2h-2zM229 649h3v2h-3zM227 649h2v2h-2zM232 654h2v2h-2zM254 654h3v2h-3zM252 649h2v2h-2zM257 654h2v2h-2zM257 651h2v3h-2zM263 651h2v3h-2zM259 649h2v2h-2zM261 654h2v2h-2zM261 651h2v3h-2zM265 654h2v2h-2zM265 651h2v3h-2zM269 654h2v2h-2zM267 651h2v3h-2zM271 656h2v2h-2zM275 660h2v2h-2zM271 660h2v2h-2zM275 658h2v2h-2zM261 664h2v2h-2zM259 662h2v2h-2zM263 662h2v2h-2zM263 666h2v2h-2zM282 666h2v2h-2zM279 662h3v2h-3zM279 664h3v2h-3zM277 666h2v2h-2zM277 662h2v2h-2zM88 670h2v2h-2zM85 668h3v2h-3zM85 672h3v2h-3zM83 668h2v2h-2zM88 668h2v2h-2zM254 670h3v2h-3zM257 672h2v2h-2zM254 668h3v2h-3zM257 668h2v2h-2zM252 668h2v2h-2zM261 672h2v2h-2zM261 668h2v2h-2zM259 672h2v2h-2zM263 672h2v2h-2zM265 668h2v2h-2zM269 668h2v2h-2zM269 672h2v2h-2zM267 668h2v2h-2zM79 679h2v2h-2zM81 679h2v2h-2zM77 679h2v2h-2zM79 676h2v3h-2zM81 676h2v3h-2zM257 674h2v2h-2zM257 679h2v2h-2zM254 674h3v2h-3zM257 676h2v3h-2zM79 681h2v2h-2zM81 681h2v2h-2zM77 683h2v2h-2zM81 685h2v2h-2zM79 683h2v2h-2zM94 681h2v2h-2zM94 683h2v2h-2zM92 685h2v2h-2zM94 685h2v2h-2zM90 681h2v2h-2zM85 689h3v2h-3zM85 687h3v2h-3zM83 689h2v2h-2zM83 687h2v2h-2zM83 691h2v2h-2zM94 691h2v2h-2zM94 687h2v2h-2zM90 689h2v2h-2zM92 691h2v2h-2zM83 693h2v2h-2zM83 695h2v2h-2zM81 701h2v2h-2zM79 699h2v2h-2zM73 707h2v3h-2zM244 732h2v3h-2zM242 732h2v3h-2zM240 735h2v2h-2zM242 730h2v2h-2zM175 755h2v2h-2zM173 757h2v3h-2zM173 760h2v2h-2zM171 755h2v2h-2zM171 760h2v2h-2zM232 766h2v2h-2zM227 766h2v2h-2zM227 762h2v2h-2zM229 764h3v2h-3zM232 764h2v2h-2z"/><path fill="#ed5a5f" d="M129 647h2v2h-2zM131 647h2v2h-2zM127 647h2v2h-2zM127 645h2v2h-2zM156 647h2v2h-2zM154 645h2v2h-2zM131 654h2v2h-2zM127 654h2v2h-2zM129 654h2v2h-2zM129 649h2v2h-2zM152 651h2v3h-2zM152 649h2v2h-2zM221 670h2v2h-2zM221 672h2v2h-2zM223 670h2v2h-2zM225 672h2v2h-2zM215 676h2v3h-2zM181 683h2v2h-2zM179 681h2v2h-2zM181 685h2v2h-2zM181 681h2v2h-2zM179 685h2v2h-2zM163 772h2v2h-2zM160 768h3v2h-3zM160 770h3v2h-3zM163 768h2v2h-2zM160 772h3v2h-3zM169 770h2v2h-2zM167 770h2v2h-2zM169 768h2v2h-2zM165 770h2v2h-2zM169 772h2v2h-2zM267 768h2v2h-2zM265 770h2v2h-2zM269 770h2v2h-2zM265 772h2v2h-2zM275 770h2v2h-2zM271 772h2v2h-2zM271 768h2v2h-2zM273 772h2v2h-2zM171 774h2v2h-2zM175 776h2v2h-2zM175 774h2v2h-2zM175 778h2v2h-2zM188 776h2v2h-2zM183 778h2v2h-2zM185 778h3v2h-3zM188 774h2v2h-2zM208 778h2v2h-2zM210 776h3v2h-3zM213 776h2v2h-2zM208 774h2v2h-2zM227 774h2v2h-2zM232 778h2v2h-2zM232 776h2v2h-2zM229 778h3v2h-3zM215 780h2v2h-2zM219 785h2v2h-2zM217 785h2v2h-2zM215 785h2v2h-2zM219 782h2v3h-2zM221 782h2v3h-2zM225 785h2v2h-2zM223 782h2v3h-2zM223 780h2v2h-2zM227 782h2v3h-2zM229 780h3v2h-3zM227 780h2v2h-2zM229 782h3v3h-3zM232 782h2v3h-2zM225 791h2v2h-2zM225 789h2v2h-2zM221 791h2v2h-2zM225 787h2v2h-2z"/><path fill="#f56b5c" d="M167 643h2v2h-2zM167 645h2v2h-2zM169 643h2v2h-2zM165 647h2v2h-2zM169 645h2v2h-2zM179 643h2v2h-2zM179 645h2v2h-2zM181 643h2v2h-2zM177 647h2v2h-2zM138 649h2v2h-2zM133 654h2v2h-2zM138 651h2v3h-2zM135 649h3v2h-3zM177 651h2v3h-2zM181 651h2v3h-2zM177 654h2v2h-2zM181 654h2v2h-2zM179 651h2v3h-2zM183 649h2v2h-2zM183 654h2v2h-2zM185 654h3v2h-3zM185 651h3v3h-3zM188 651h2v3h-2zM123 670h2v2h-2zM123 668h2v2h-2zM125 670h2v2h-2zM125 672h2v2h-2zM121 672h2v2h-2zM215 670h2v2h-2zM219 668h2v2h-2zM217 668h2v2h-2zM219 672h2v2h-2zM217 670h2v2h-2zM127 679h2v2h-2zM127 676h2v3h-2zM131 676h2v3h-2zM127 674h2v2h-2zM152 679h2v2h-2zM156 679h2v2h-2zM154 674h2v2h-2zM154 679h2v2h-2zM181 679h2v2h-2zM179 679h2v2h-2zM181 674h2v2h-2zM177 679h2v2h-2zM192 676h2v3h-2zM192 674h2v2h-2zM194 674h2v2h-2zM192 679h2v2h-2zM190 674h2v2h-2zM200 674h2v2h-2zM198 674h2v2h-2zM196 679h2v2h-2zM200 676h2v3h-2zM204 674h2v2h-2zM96 681h2v2h-2zM100 685h2v2h-2zM100 683h2v2h-2zM98 685h2v2h-2zM96 683h2v2h-2zM113 683h2v2h-2zM108 681h2v2h-2zM110 685h3v2h-3zM113 681h2v2h-2zM108 685h2v2h-2zM106 691h2v2h-2zM106 689h2v2h-2zM106 687h2v2h-2zM104 689h2v2h-2zM102 691h2v2h-2zM119 691h2v2h-2zM115 687h2v2h-2zM117 689h2v2h-2zM119 689h2v2h-2zM117 687h2v2h-2z"/><path fill="#d2426f" d="M236 647h2v2h-2zM236 643h2v2h-2zM171 762h2v2h-2zM173 762h2v2h-2zM175 766h2v2h-2zM173 764h2v2h-2zM171 766h2v2h-2zM160 785h3v2h-3zM158 782h2v3h-2zM163 785h2v2h-2zM163 782h2v3h-2zM167 785h2v2h-2zM169 785h2v2h-2zM169 782h2v3h-2zM167 782h2v3h-2zM175 791h2v2h-2zM175 787h2v2h-2zM173 791h2v2h-2zM175 789h2v2h-2zM171 789h2v2h-2zM277 795h2v2h-2zM279 797h3v2h-3zM279 793h3v2h-3zM277 797h2v2h-2zM277 793h2v2h-2zM284 793h2v2h-2zM286 795h2v2h-2zM284 795h2v2h-2zM288 793h2v2h-2zM252 814h2v2h-2zM252 816h2v2h-2zM257 814h2v2h-2zM254 812h3v2h-3zM259 812h2v2h-2zM263 816h2v2h-2zM261 816h2v2h-2zM259 814h2v2h-2zM257 820h2v2h-2zM254 818h3v2h-3zM257 818h2v2h-2zM257 822h2v2h-2z"/><path fill="#8c2981" d="M190 651h2v3h-2zM194 651h2v3h-2zM194 649h2v2h-2zM192 654h2v2h-2zM213 649h2v2h-2zM213 654h2v2h-2zM213 651h2v3h-2zM208 654h2v2h-2zM88 656h2v2h-2zM85 660h3v2h-3zM83 656h2v2h-2zM83 660h2v2h-2zM90 672h2v2h-2zM90 668h2v2h-2zM94 668h2v2h-2zM92 668h2v2h-2zM92 672h2v2h-2zM113 670h2v2h-2zM110 668h3v2h-3zM108 670h2v2h-2zM108 668h2v2h-2zM96 676h2v3h-2zM96 679h2v2h-2zM98 674h2v2h-2zM100 679h2v2h-2zM96 674h2v2h-2zM102 679h2v2h-2zM104 676h2v3h-2zM106 674h2v2h-2zM104 674h2v2h-2zM106 679h2v2h-2zM90 695h2v2h-2zM94 693h2v2h-2zM92 697h2v2h-2zM90 693h2v2h-2zM90 697h2v2h-2zM129 693h2v2h-2zM131 695h2v2h-2zM129 695h2v2h-2zM131 697h2v2h-2zM94 699h2v2h-2zM92 701h2v2h-2zM98 710h2v2h-2zM98 707h2v3h-2zM100 705h2v2h-2zM98 705h2v2h-2zM96 705h2v2h-2zM73 712h2v2h-2zM73 714h2v2h-2zM71 716h2v2h-2zM75 716h2v2h-2zM81 712h2v2h-2zM79 712h2v2h-2zM77 716h2v2h-2zM77 712h2v2h-2zM100 714h2v2h-2zM96 716h2v2h-2zM100 716h2v2h-2zM96 714h2v2h-2zM79 720h2v2h-2zM77 720h2v2h-2zM81 722h2v2h-2zM79 718h2v2h-2zM77 718h2v2h-2zM90 720h2v2h-2zM90 722h2v2h-2zM92 720h2v2h-2zM94 720h2v2h-2zM90 718h2v2h-2zM94 726h2v2h-2zM94 724h2v2h-2zM92 724h2v2h-2zM90 726h2v2h-2zM92 726h2v2h-2zM131 762h2v2h-2zM129 764h2v2h-2zM129 762h2v2h-2zM129 766h2v2h-2zM131 766h2v2h-2zM156 780h2v2h-2zM156 785h2v2h-2zM154 780h2v2h-2zM152 785h2v2h-2zM152 780h2v2h-2zM146 789h2v2h-2zM146 791h2v2h-2zM146 787h2v2h-2zM150 787h2v2h-2zM156 791h2v2h-2zM154 787h2v2h-2zM152 787h2v2h-2zM156 787h2v2h-2zM150 807h2v3h-2zM148 810h2v2h-2zM146 805h2v2h-2zM150 810h2v2h-2zM148 805h2v2h-2zM152 805h2v2h-2zM152 807h2v3h-2zM156 807h2v3h-2zM156 810h2v2h-2zM154 810h2v2h-2zM158 805h2v2h-2zM160 810h3v2h-3zM163 805h2v2h-2zM160 807h3v3h-3zM165 805h2v2h-2zM167 807h2v3h-2zM169 807h2v3h-2zM165 807h2v3h-2zM169 810h2v2h-2zM171 807h2v3h-2zM173 807h2v3h-2zM171 805h2v2h-2zM173 810h2v2h-2zM152 812h2v2h-2zM152 816h2v2h-2zM156 814h2v2h-2zM156 816h2v2h-2zM152 814h2v2h-2zM163 814h2v2h-2zM158 812h2v2h-2zM160 812h3v2h-3zM163 816h2v2h-2zM167 816h2v2h-2zM169 816h2v2h-2zM169 812h2v2h-2zM165 814h2v2h-2zM167 812h2v2h-2zM196 830h2v2h-2zM198 832h2v3h-2zM198 830h2v2h-2zM196 835h2v2h-2zM200 835h2v2h-2zM177 837h2v2h-2zM181 839h2v2h-2zM179 839h2v2h-2zM179 837h2v2h-2zM185 841h3v2h-3zM188 837h2v2h-2zM185 837h3v2h-3zM183 839h2v2h-2zM188 839h2v2h-2zM206 841h2v2h-2zM202 839h2v2h-2zM204 841h2v2h-2zM204 839h2v2h-2zM181 845h2v2h-2zM177 847h2v2h-2zM179 847h2v2h-2zM181 847h2v2h-2zM185 847h3v2h-3zM183 843h2v2h-2zM188 845h2v2h-2zM185 845h3v2h-3zM196 845h2v2h-2zM198 845h2v2h-2zM196 843h2v2h-2zM196 847h2v2h-2zM200 847h2v2h-2z"/><path fill="#c23b75" d="M240 664h2v2h-2zM244 666h2v2h-2zM240 666h2v2h-2zM244 664h2v2h-2zM242 664h2v2h-2zM232 676h2v3h-2zM232 674h2v2h-2zM213 697h2v2h-2zM213 695h2v2h-2zM194 764h2v2h-2zM192 766h2v2h-2zM190 764h2v2h-2zM194 762h2v2h-2zM192 764h2v2h-2zM196 766h2v2h-2zM200 766h2v2h-2zM200 762h2v2h-2zM200 764h2v2h-2zM202 766h2v2h-2zM202 764h2v2h-2zM202 762h2v2h-2zM206 764h2v2h-2zM206 766h2v2h-2zM198 772h2v2h-2zM200 770h2v2h-2zM198 768h2v2h-2zM196 768h2v2h-2zM198 770h2v2h-2zM292 776h2v2h-2zM294 778h2v2h-2zM294 776h2v2h-2zM294 774h2v2h-2zM192 780h2v2h-2zM194 782h2v3h-2zM190 780h2v2h-2zM192 782h2v3h-2zM200 785h2v2h-2zM198 785h2v2h-2zM196 782h2v3h-2zM198 780h2v2h-2zM196 780h2v2h-2zM242 780h2v2h-2zM244 785h2v2h-2zM242 782h2v3h-2zM240 782h2v3h-2zM240 780h2v2h-2zM183 787h2v2h-2zM183 789h2v2h-2zM188 791h2v2h-2zM185 787h3v2h-3zM206 787h2v2h-2zM204 789h2v2h-2zM206 789h2v2h-2zM202 789h2v2h-2zM210 787h3v2h-3zM213 789h2v2h-2zM208 787h2v2h-2zM213 787h2v2h-2zM210 789h3v2h-3zM236 787h2v2h-2zM234 791h2v2h-2zM238 789h2v2h-2zM236 789h2v2h-2zM238 787h2v2h-2zM242 789h2v2h-2zM240 791h2v2h-2zM240 787h2v2h-2zM242 787h2v2h-2zM215 797h2v2h-2zM219 795h2v2h-2zM215 795h2v2h-2zM219 793h2v2h-2zM217 801h2v2h-2zM215 801h2v2h-2zM219 801h2v2h-2zM219 803h2v2h-2zM217 799h2v2h-2zM198 810h2v2h-2zM200 810h2v2h-2zM198 805h2v2h-2zM196 805h2v2h-2zM202 816h2v2h-2zM204 816h2v2h-2zM202 812h2v2h-2zM204 812h2v2h-2zM206 816h2v2h-2zM206 822h2v2h-2zM202 818h2v2h-2zM204 818h2v2h-2zM202 820h2v2h-2z"/><path fill="#e24d66" d="M113 676h2v3h-2zM108 676h2v3h-2zM108 674h2v2h-2zM113 674h2v2h-2zM110 674h3v2h-3zM236 699h2v2h-2zM238 703h2v2h-2zM234 699h2v2h-2zM234 701h2v2h-2zM254 701h3v2h-3zM257 701h2v2h-2zM252 699h2v2h-2zM252 703h2v2h-2zM259 705h2v2h-2zM261 705h2v2h-2zM263 705h2v2h-2zM261 710h2v2h-2zM261 707h2v3h-2zM210 770h3v2h-3zM210 768h3v2h-3zM210 772h3v2h-3zM213 768h2v2h-2zM213 772h2v2h-2zM223 768h2v2h-2zM225 772h2v2h-2zM223 772h2v2h-2zM221 768h2v2h-2zM275 801h2v2h-2zM271 801h2v2h-2zM275 799h2v2h-2zM273 799h2v2h-2zM273 803h2v2h-2zM261 810h2v2h-2zM261 805h2v2h-2zM261 807h2v3h-2zM259 805h2v2h-2zM267 805h2v2h-2zM265 807h2v3h-2zM267 807h2v3h-2zM269 805h2v2h-2zM269 810h2v2h-2z"/><path fill="#fd9266" d="M206 683h2v2h-2z"/><path fill="#fa7d5e" d="M206 691h2v2h-2zM206 693h2v2h-2zM204 697h2v2h-2zM206 695h2v2h-2zM204 693h2v2h-2zM202 695h2v2h-2z"/><path fill="#b2357b" d="M242 693h2v2h-2zM246 693h2v2h-2zM246 695h2v2h-2zM248 695h2v2h-2zM248 697h2v2h-2zM250 693h2v2h-2zM244 703h2v2h-2zM242 699h2v2h-2zM104 716h2v2h-2zM106 714h2v2h-2zM104 714h2v2h-2zM102 714h2v2h-2zM104 712h2v2h-2zM100 720h2v2h-2zM100 722h2v2h-2zM96 722h2v2h-2zM96 720h2v2h-2zM96 728h2v2h-2zM98 724h2v2h-2zM96 724h2v2h-2zM100 724h2v2h-2zM119 728h2v2h-2zM117 726h2v2h-2zM115 728h2v2h-2zM117 728h2v2h-2zM167 787h2v2h-2zM165 791h2v2h-2zM167 789h2v2h-2zM165 787h2v2h-2zM223 803h2v2h-2zM225 803h2v2h-2zM223 799h2v2h-2zM221 801h2v2h-2zM179 810h2v2h-2zM177 807h2v3h-2zM179 805h2v2h-2zM181 810h2v2h-2zM185 807h3v3h-3zM188 805h2v2h-2zM188 807h2v3h-2zM183 810h2v2h-2zM221 807h2v3h-2zM223 805h2v2h-2zM225 810h2v2h-2zM223 810h2v2h-2zM227 805h2v2h-2zM227 807h2v3h-2zM229 810h3v2h-3zM229 805h3v2h-3zM179 812h2v2h-2zM179 816h2v2h-2zM177 814h2v2h-2zM181 814h2v2h-2zM194 814h2v2h-2zM190 814h2v2h-2zM192 816h2v2h-2zM192 814h2v2h-2zM194 816h2v2h-2zM200 816h2v2h-2zM196 816h2v2h-2zM198 812h2v2h-2zM200 812h2v2h-2zM198 816h2v2h-2zM210 816h3v2h-3zM208 814h2v2h-2zM210 812h3v2h-3zM213 816h2v2h-2zM217 814h2v2h-2zM219 816h2v2h-2zM219 814h2v2h-2zM219 812h2v2h-2zM194 818h2v2h-2zM192 818h2v2h-2zM192 820h2v2h-2zM190 820h2v2h-2z"/><path fill="#5c167f" d="M113 710h2v2h-2zM108 710h2v2h-2zM110 705h3v2h-3zM110 710h3v2h-3zM113 716h2v2h-2zM110 712h3v2h-3zM110 716h3v2h-3zM113 714h2v2h-2zM265 716h2v2h-2zM265 714h2v2h-2zM267 714h2v2h-2zM269 712h2v2h-2zM115 722h2v2h-2zM119 722h2v2h-2zM119 718h2v2h-2zM117 722h2v2h-2zM117 720h2v2h-2zM127 718h2v2h-2zM127 722h2v2h-2zM131 720h2v2h-2zM129 720h2v2h-2zM129 718h2v2h-2zM261 720h2v2h-2zM261 722h2v2h-2zM261 718h2v2h-2zM259 718h2v2h-2zM259 720h2v2h-2zM275 720h2v2h-2zM271 722h2v2h-2zM275 722h2v2h-2zM271 720h2v2h-2zM133 728h2v2h-2zM138 726h2v2h-2zM135 728h3v2h-3zM133 724h2v2h-2zM135 726h3v2h-3zM265 724h2v2h-2zM265 726h2v2h-2zM269 728h2v2h-2zM265 728h2v2h-2zM263 735h2v2h-2zM259 732h2v3h-2zM261 730h2v2h-2zM261 735h2v2h-2zM271 735h2v2h-2zM271 730h2v2h-2zM275 735h2v2h-2zM275 732h2v3h-2zM257 737h2v2h-2zM252 737h2v2h-2zM254 741h3v2h-3zM257 741h2v2h-2zM252 741h2v2h-2z"/><path fill="#3b0f70" d="M250 776h2v2h-2zM248 774h2v2h-2zM246 776h2v2h-2zM246 774h2v2h-2zM221 816h2v2h-2zM225 812h2v2h-2zM223 816h2v2h-2zM225 816h2v2h-2zM229 812h3v2h-3zM229 814h3v2h-3zM232 816h2v2h-2zM227 814h2v2h-2zM227 812h2v2h-2zM210 822h3v2h-3zM213 820h2v2h-2zM208 822h2v2h-2zM210 818h3v2h-3zM232 820h2v2h-2zM232 818h2v2h-2zM227 822h2v2h-2zM227 820h2v2h-2zM229 820h3v2h-3zM206 824h2v2h-2zM206 828h2v2h-2zM202 826h2v2h-2zM206 826h2v2h-2zM204 826h2v2h-2zM208 824h2v2h-2zM208 828h2v2h-2zM213 828h2v2h-2zM213 826h2v2h-2zM234 824h2v2h-2zM236 828h2v2h-2zM238 826h2v2h-2zM238 824h2v2h-2zM208 835h2v2h-2zM210 835h3v2h-3zM210 832h3v3h-3zM210 830h3v2h-3zM208 830h2v2h-2zM215 830h2v2h-2zM217 830h2v2h-2zM219 830h2v2h-2zM215 832h2v3h-2zM217 835h2v2h-2zM225 835h2v2h-2zM225 832h2v3h-2zM221 832h2v3h-2zM223 835h2v2h-2zM225 830h2v2h-2zM227 830h2v2h-2zM232 830h2v2h-2zM229 830h3v2h-3zM229 835h3v2h-3zM227 835h2v2h-2zM234 835h2v2h-2zM236 835h2v2h-2zM238 835h2v2h-2zM238 830h2v2h-2zM227 837h2v2h-2zM232 841h2v2h-2zM227 839h2v2h-2zM229 839h3v2h-3zM232 837h2v2h-2z"/></g><circle cx="124.2" cy="55.3" r="9.3" fill="none" stroke="#1ec3c3" stroke-width="2.3"/><text x="107.4" y="52.4" font-family="Liberation Serif" font-size="13.6" fill="#1ec3c3" stroke="#1ec3c3" stroke-width="0.25">1</text><circle cx="197" cy="59.4" r="9.3" fill="none" stroke="#1ec3c3" stroke-width="2.3"/><text x="179.5" y="56.9" font-family="Liberation Serif" font-size="13.6" fill="#1ec3c3" stroke="#1ec3c3" stroke-width="0.25">2</text><circle cx="140" cy="83" r="9.3" fill="none" stroke="#1ec3c3" stroke-width="2.3"/><text x="122.5" y="79.8" font-family="Liberation Serif" font-size="13.6" fill="#1ec3c3" stroke="#1ec3c3" stroke-width="0.25">3</text><circle cx="186.7" cy="88.3" r="9.3" fill="none" stroke="#1ec3c3" stroke-width="2.3"/><text x="168.8" y="85.8" font-family="Liberation Serif" font-size="13.6" fill="#1ec3c3" stroke="#1ec3c3" stroke-width="0.25">4</text><ellipse cx="279.3" cy="222.8" rx="3" ry="3.8" transform="rotate(30 279.3 222.8)" fill="none" stroke="#111" stroke-width="0.9"/><circle cx="127.9" cy="355.2" r="10.1" fill="none" stroke="#1ec3c3" stroke-width="2.3"/><circle cx="201.8" cy="359.4" r="10.1" fill="none" stroke="#1ec3c3" stroke-width="2.3"/><circle cx="143.5" cy="383.2" r="10.1" fill="none" stroke="#1ec3c3" stroke-width="2.3"/><circle cx="190.4" cy="387.7" r="10.1" fill="none" stroke="#1ec3c3" stroke-width="2.3"/><circle cx="128.9" cy="658.9" r="10.3" fill="none" stroke="#1ec3c3" stroke-width="2.3"/><circle cx="205" cy="663.4" r="10.3" fill="none" stroke="#1ec3c3" stroke-width="2.3"/><circle cx="145.8" cy="688.2" r="10.3" fill="none" stroke="#1ec3c3" stroke-width="2.3"/><circle cx="193.6" cy="693" r="10.3" fill="none" stroke="#1ec3c3" stroke-width="2.3"/><ellipse cx="286" cy="526.6" rx="3.1" ry="3.9" transform="rotate(30 286 526.6)" fill="none" stroke="#111" stroke-width="0.9"/><ellipse cx="290.2" cy="833" rx="3.1" ry="4" transform="rotate(30 290.2 833)" fill="none" stroke="#111" stroke-width="0.9"/></svg>
<div class="yl" style="font-size:10.90px;right:276.90px;top:49.51px">0°01′00″</div>
<div class="yl" style="font-size:10.90px;right:276.90px;top:110.09px">00′40″</div>
<div class="yl" style="font-size:10.90px;right:276.90px;top:170.60px">20″</div>
<div class="yl" style="font-size:10.90px;right:276.90px;top:231.59px">00″</div>
<div class="xl" style="font-size:10.90px;left:62.83px;top:246.10px">358°43′40″</div>
<div class="xl" style="font-size:10.90px;left:123.32px;top:246.10px">20″</div>
<div class="xl" style="font-size:10.90px;left:184.13px;top:246.10px">00″</div>
<div class="xl" style="font-size:10.90px;left:245.22px;top:246.10px">42′40″</div>
<div class="cl" style="font-size:10.90px;left:320.60px;top:238.70px">0.0</div>
<div class="cl" style="font-size:10.90px;left:320.60px;top:208.62px">2.5</div>
<div class="cl" style="font-size:10.90px;left:320.60px;top:178.55px">5.0</div>
<div class="cl" style="font-size:10.90px;left:320.60px;top:148.47px">7.5</div>
<div class="cl" style="font-size:10.90px;left:320.60px;top:118.40px">10.0</div>
<div class="cl" style="font-size:10.90px;left:320.60px;top:88.32px">12.5</div>
<div class="cl" style="font-size:10.90px;left:320.60px;top:58.25px">15.0</div>
<div class="cl" style="font-size:10.90px;left:320.60px;top:28.17px">17.5</div>
<div class="cl" style="font-size:10.90px;left:320.60px;top:-1.90px">20.0</div>
<div class="al" style="font-size:16.30px;left:102.45px;top:263.10px">Galactic Longitude</div>
<div class="al rot" style="font-size:16.30px;left:-72.50px;top:113.80px">Galactic Latitude</div>
<div class="ti" style="font-size:12.40px;right:40.90px;top:17.50px"><sup>12</sup>CO/<sup>13</sup>CO</div>
<div class="yl" style="font-size:11.14px;right:275.32px;top:348.84px">0°01′00″</div>
<div class="yl" style="font-size:11.14px;right:275.32px;top:410.78px">00′40″</div>
<div class="yl" style="font-size:11.14px;right:275.32px;top:472.65px">20″</div>
<div class="yl" style="font-size:11.14px;right:275.32px;top:535.01px">00″</div>
<div class="xl" style="font-size:11.14px;left:65.40px;top:549.84px">358°43′40″</div>
<div class="xl" style="font-size:11.14px;left:127.32px;top:549.84px">20″</div>
<div class="xl" style="font-size:11.14px;left:189.56px;top:549.84px">00″</div>
<div class="xl" style="font-size:11.14px;left:252.10px;top:549.84px">42′40″</div>
<div class="cl" style="font-size:11.14px;left:327.76px;top:542.28px">0</div>
<div class="cl" style="font-size:11.14px;left:327.76px;top:511.53px">5</div>
<div class="cl" style="font-size:11.14px;left:327.76px;top:480.78px">10</div>
<div class="cl" style="font-size:11.14px;left:327.76px;top:450.03px">15</div>
<div class="cl" style="font-size:11.14px;left:327.76px;top:419.28px">20</div>
<div class="cl" style="font-size:11.14px;left:327.76px;top:388.53px">25</div>
<div class="cl" style="font-size:11.14px;left:327.76px;top:357.78px">30</div>
<div class="cl" style="font-size:11.14px;left:327.76px;top:327.03px">35</div>
<div class="cl" style="font-size:11.14px;left:327.76px;top:296.28px">40</div>
<div class="al" style="font-size:16.67px;left:106.90px;top:567.23px">Galactic Longitude</div>
<div class="al rot" style="font-size:16.67px;left:-72.50px;top:414.80px">Galactic Latitude</div>
<div class="ti" style="font-size:12.68px;right:34.00px;top:316.86px"><sup>12</sup>CO/<sup>18</sup>CO</div>
<div class="yl" style="font-size:11.31px;right:274.28px;top:653.35px">0°01′00″</div>
<div class="yl" style="font-size:11.31px;right:274.28px;top:716.22px">00′40″</div>
<div class="yl" style="font-size:11.31px;right:274.28px;top:779.02px">20″</div>
<div class="yl" style="font-size:11.31px;right:274.28px;top:842.32px">00″</div>
<div class="xl" style="font-size:11.31px;left:67.05px;top:857.38px">358°43′40″</div>
<div class="xl" style="font-size:11.31px;left:129.86px;top:857.38px">20″</div>
<div class="xl" style="font-size:11.31px;left:193.00px;top:857.38px">00″</div>
<div class="xl" style="font-size:11.31px;left:256.44px;top:857.38px">42′40″</div>
<div class="cl" style="font-size:11.31px;left:333.10px;top:849.70px">0</div>
<div class="cl" style="font-size:11.31px;left:333.10px;top:814.02px">1</div>
<div class="cl" style="font-size:11.31px;left:333.10px;top:778.35px">2</div>
<div class="cl" style="font-size:11.31px;left:333.10px;top:742.68px">3</div>
<div class="cl" style="font-size:11.31px;left:333.10px;top:707.01px">4</div>
<div class="cl" style="font-size:11.31px;left:333.10px;top:671.34px">5</div>
<div class="cl" style="font-size:11.31px;left:333.10px;top:635.67px">6</div>
<div class="cl" style="font-size:11.31px;left:333.10px;top:600.00px">7</div>
<div class="al" style="font-size:16.92px;left:109.73px;top:875.02px">Galactic Longitude</div>
<div class="al rot" style="font-size:16.92px;left:-72.50px;top:720.45px">Galactic Latitude</div>
<div class="ti" style="font-size:12.87px;right:30.00px;top:620.19px"><sup>13</sup>CO/C<sup>18</sup>O</div>
<svg style="position:absolute;left:0;top:0" width="338" height="893" viewBox="0 0 338 893"><defs><linearGradient id="mg" x1="0" y1="1" x2="0" y2="0"><stop offset="0.000" stop-color="#000004"/><stop offset="0.031" stop-color="#030312"/><stop offset="0.062" stop-color="#0a0822"/><stop offset="0.094" stop-color="#130d34"/><stop offset="0.125" stop-color="#1d1147"/><stop offset="0.156" stop-color="#29115a"/><stop offset="0.188" stop-color="#36106b"/><stop offset="0.219" stop-color="#440f76"/><stop offset="0.250" stop-color="#51127c"/><stop offset="0.281" stop-color="#5d177f"/><stop offset="0.312" stop-color="#6a1c81"/><stop offset="0.344" stop-color="#762181"/><stop offset="0.375" stop-color="#832681"/><stop offset="0.406" stop-color="#902a81"/><stop offset="0.438" stop-color="#9c2e7f"/><stop offset="0.469" stop-color="#aa337d"/><stop offset="0.500" stop-color="#b73779"/><stop offset="0.531" stop-color="#c43c75"/><stop offset="0.562" stop-color="#d0416f"/><stop offset="0.594" stop-color="#dc4869"/><stop offset="0.625" stop-color="#e75263"/><stop offset="0.656" stop-color="#ef5d5e"/><stop offset="0.688" stop-color="#f56b5c"/><stop offset="0.719" stop-color="#f9795d"/><stop offset="0.750" stop-color="#fc8961"/><stop offset="0.781" stop-color="#fd9869"/><stop offset="0.812" stop-color="#fea772"/><stop offset="0.844" stop-color="#feb67c"/><stop offset="0.875" stop-color="#fec488"/><stop offset="0.906" stop-color="#fed395"/><stop offset="0.938" stop-color="#fde2a3"/><stop offset="0.969" stop-color="#fcf0b2"/><stop offset="1.000" stop-color="#010005"/></linearGradient></defs><rect x="305.80" y="3.50" width="12.10" height="240.60" fill="url(#mg)" stroke="#000" stroke-width="0.9"/><rect x="62.00" y="3.50" width="240.90" height="240.60" fill="none" stroke="#000" stroke-width="0.9"/><path d="M62.00 56.41h3.5M302.90 56.41h-3.5M62.00 116.99h3.5M302.90 116.99h-3.5M62.00 177.50h3.5M302.90 177.50h-3.5M62.00 238.49h3.5M302.90 238.49h-3.5M102.83 244.10v-3.5M102.83 3.50v3.5M163.32 244.10v-3.5M163.32 3.50v3.5M224.13 244.10v-3.5M224.13 3.50v3.5M285.22 244.10v-3.5M285.22 3.50v3.5M317.90 244.10h3.5M317.90 214.03h3.5M317.90 183.95h3.5M317.90 153.88h3.5M317.90 123.80h3.5M317.90 93.72h3.5M317.90 63.65h3.5M317.90 33.57h3.5M317.90 3.50h3.5" stroke="#000" stroke-width="0.9" fill="none"/><rect x="313.20" y="301.80" width="11.80" height="246.00" fill="url(#mg)" stroke="#000" stroke-width="0.9"/><rect x="63.60" y="301.80" width="246.60" height="246.00" fill="none" stroke="#000" stroke-width="0.9"/><path d="M63.60 355.90h3.5M310.20 355.90h-3.5M63.60 417.84h3.5M310.20 417.84h-3.5M63.60 479.71h3.5M310.20 479.71h-3.5M63.60 542.07h3.5M310.20 542.07h-3.5M105.40 547.80v-3.5M105.40 301.80v3.5M167.32 547.80v-3.5M167.32 301.80v3.5M229.56 547.80v-3.5M229.56 301.80v3.5M292.10 547.80v-3.5M292.10 301.80v3.5M325.00 547.80h3.5M325.00 517.05h3.5M325.00 486.30h3.5M325.00 455.55h3.5M325.00 424.80h3.5M325.00 394.05h3.5M325.00 363.30h3.5M325.00 332.55h3.5M325.00 301.80h3.5" stroke="#000" stroke-width="0.9" fill="none"/><rect x="317.90" y="605.60" width="12.40" height="249.70" fill="url(#mg)" stroke="#000" stroke-width="0.9"/><rect x="64.65" y="605.60" width="250.15" height="249.70" fill="none" stroke="#000" stroke-width="0.9"/><path d="M64.65 660.51h3.5M314.80 660.51h-3.5M64.65 723.38h3.5M314.80 723.38h-3.5M64.65 786.18h3.5M314.80 786.18h-3.5M64.65 849.48h3.5M314.80 849.48h-3.5M107.05 855.30v-3.5M107.05 605.60v3.5M169.86 855.30v-3.5M169.86 605.60v3.5M233.00 855.30v-3.5M233.00 605.60v3.5M296.44 855.30v-3.5M296.44 605.60v3.5M330.30 855.30h3.5M330.30 819.63h3.5M330.30 783.96h3.5M330.30 748.29h3.5M330.30 712.61h3.5M330.30 676.94h3.5M330.30 641.27h3.5M330.30 605.60h3.5" stroke="#000" stroke-width="0.9" fill="none"/></svg>
</body></html>
